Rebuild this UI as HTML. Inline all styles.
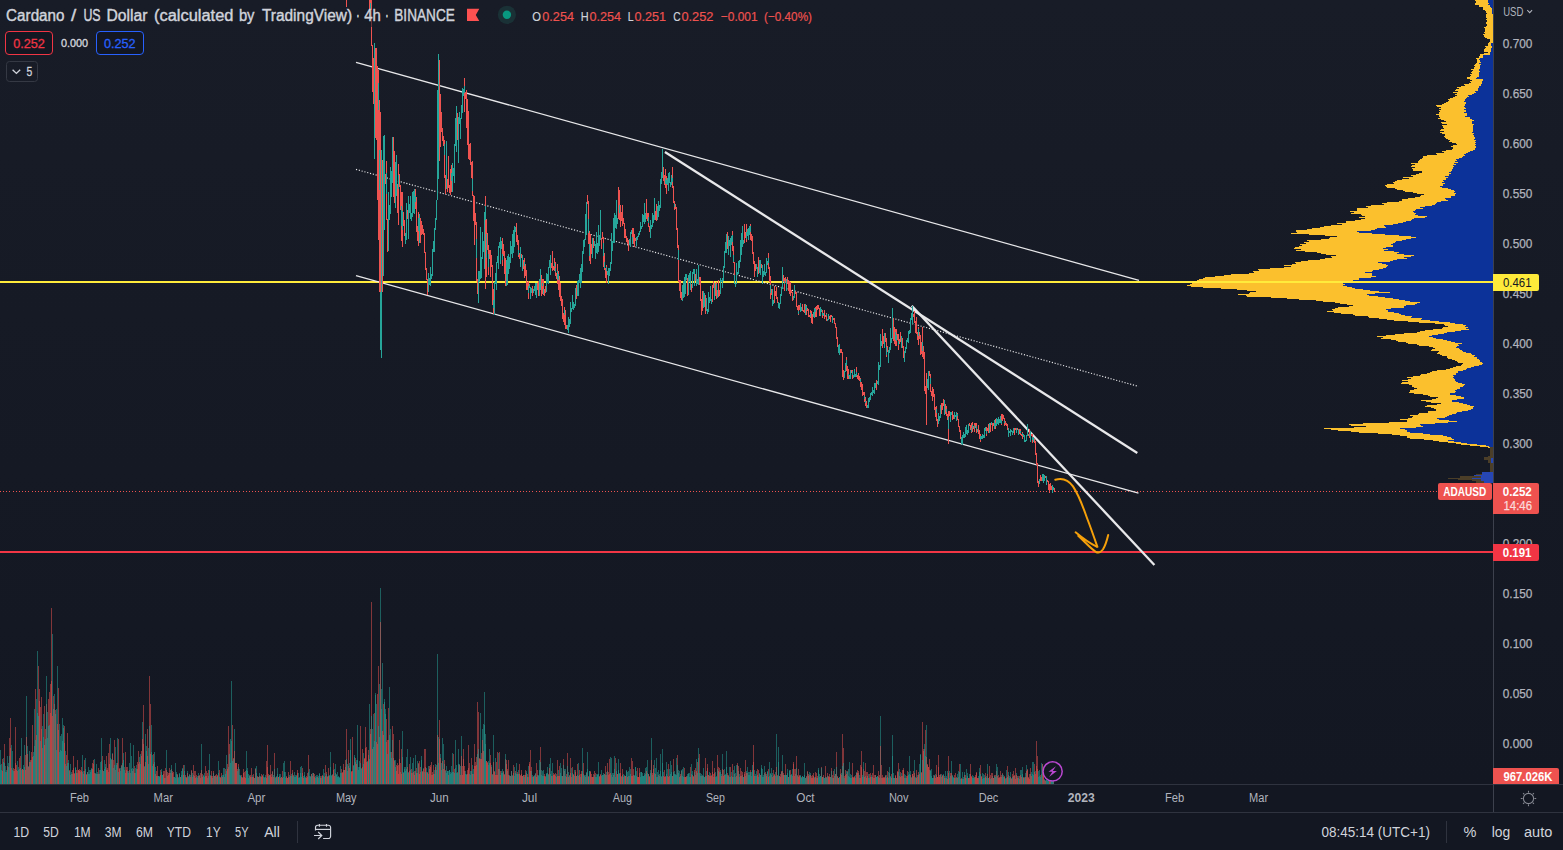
<!DOCTYPE html>
<html><head><meta charset="utf-8"><title>ADAUSD</title>
<style>
html,body{margin:0;padding:0;background:#131722;}
body{width:1563px;height:850px;overflow:hidden;position:relative;}
svg{position:absolute;left:0;top:0;display:block;font-family:"Liberation Sans",sans-serif;}
text{white-space:pre;}
</style></head><body>
<svg width="1563" height="850" viewBox="0 0 1563 850">
<defs><linearGradient id="bgg" x1="0" y1="0" x2="0" y2="1"><stop offset="0" stop-color="#181c27"/><stop offset="1" stop-color="#131722"/></linearGradient></defs>
<rect width="1563" height="850" fill="#131722"/>
<rect width="1563" height="784" fill="url(#bgg)"/>
<g shape-rendering="crispEdges">
<path d="M0.5 784V764.9M1.5 784V764.4M3.5 784V757.8M5.5 784V771.8M6.5 784V769.5M7.5 784V756.2M8.5 784V762.7M12.5 784V769.9M17.5 784V760.7M18.5 784V767.3M20.5 784V767.6M21.5 784V737.6M23.5 784V764.5M24.5 784V766.8M26.5 784V696.0M27.5 784V746.4M28.5 784V766.1M29.5 784V750.8M31.5 784V759.9M33.5 784V756.1M34.5 784V709.0M36.5 784V699.0M37.5 784V651.0M43.5 784V714.0M47.5 784V711.9M52.5 784V634.0M53.5 784V709.0M55.5 784V714.0M56.5 784V750.1M57.5 784V666.0M59.5 784V724.0M60.5 784V750.0M61.5 784V734.0M62.5 784V718.4M63.5 784V725.0M68.5 784V759.6M69.5 784V771.2M70.5 784V774.7M72.5 784V773.9M75.5 784V766.6M83.5 784V770.8M85.5 784V768.8M88.5 784V766.6M89.5 784V773.5M90.5 784V771.5M91.5 784V768.6M94.5 784V758.6M96.5 784V774.3M98.5 784V773.5M100.5 784V762.1M101.5 784V738.0M102.5 784V770.0M104.5 784V759.6M105.5 784V767.1M108.5 784V771.8M110.5 784V737.6M112.5 784V752.6M116.5 784V762.7M117.5 784V737.6M120.5 784V767.9M123.5 784V753.0M124.5 784V766.5M128.5 784V773.3M129.5 784V763.0M131.5 784V755.9M135.5 784V773.0M136.5 784V765.2M139.5 784V756.8M140.5 784V763.7M142.5 784V721.9M145.5 784V734.0M146.5 784V751.4M148.5 784V763.9M151.5 784V725.0M152.5 784V754.7M154.5 784V752.3M157.5 784V775.8M158.5 784V776.0M159.5 784V775.9M161.5 784V771.9M162.5 784V774.9M166.5 784V750.0M173.5 784V777.3M174.5 784V777.2M175.5 784V763.1M176.5 784V773.5M177.5 784V775.3M178.5 784V777.5M179.5 784V772.6M180.5 784V776.5M181.5 784V774.6M182.5 784V768.7M184.5 784V765.4M187.5 784V771.2M188.5 784V777.2M190.5 784V774.7M191.5 784V770.6M192.5 784V776.6M193.5 784V775.3M197.5 784V776.4M198.5 784V772.6M199.5 784V775.8M201.5 784V744.0M203.5 784V774.7M204.5 784V773.3M207.5 784V777.5M208.5 784V775.8M209.5 784V754.0M212.5 784V777.9M214.5 784V776.2M215.5 784V775.9M218.5 784V772.6M222.5 784V775.3M223.5 784V768.0M226.5 784V755.2M228.5 784V766.8M230.5 784V739.0M231.5 784V681.0M234.5 784V729.0M239.5 784V769.2M240.5 784V775.0M242.5 784V776.8M246.5 784V751.0M247.5 784V768.4M248.5 784V774.2M252.5 784V775.2M255.5 784V768.2M256.5 784V772.9M257.5 784V776.9M258.5 784V777.1M263.5 784V774.1M265.5 784V776.6M272.5 784V771.7M273.5 784V775.1M275.5 784V777.3M276.5 784V775.5M277.5 784V767.9M279.5 784V776.3M280.5 784V774.2M281.5 784V776.7M283.5 784V776.9M284.5 784V771.9M285.5 784V772.2M287.5 784V777.6M290.5 784V776.2M291.5 784V775.8M292.5 784V772.9M294.5 784V771.5M295.5 784V774.6M296.5 784V775.3M298.5 784V777.6M299.5 784V777.9M300.5 784V767.0M301.5 784V777.2M303.5 784V775.9M304.5 784V771.7M305.5 784V776.8M309.5 784V775.9M310.5 784V776.2M311.5 784V773.7M313.5 784V773.0M315.5 784V775.8M316.5 784V775.0M317.5 784V775.2M318.5 784V777.5M319.5 784V774.2M321.5 784V775.8M323.5 784V776.1M324.5 784V773.3M327.5 784V775.7M329.5 784V774.9M330.5 784V752.0M331.5 784V774.6M332.5 784V773.5M334.5 784V768.7M336.5 784V773.8M337.5 784V776.5M338.5 784V776.7M339.5 784V777.4M340.5 784V765.8M347.5 784V764.0M348.5 784V765.5M349.5 784V762.8M350.5 784V749.6M353.5 784V764.7M354.5 784V757.0M355.5 784V762.4M356.5 784V760.0M357.5 784V725.0M358.5 784V766.8M359.5 784V760.9M361.5 784V769.1M363.5 784V752.7M367.5 784V760.8M369.5 784V704.4M372.5 784V729.4M373.5 784V714.0M375.5 784V695.0M376.5 784V704.0M379.5 784V684.0M380.5 784V588.0M381.5 784V689.0M382.5 784V663.0M384.5 784V699.0M385.5 784V714.0M389.5 784V686.9M390.5 784V729.0M395.5 784V766.8M400.5 784V771.8M402.5 784V731.0M403.5 784V772.3M404.5 784V769.0M405.5 784V767.4M406.5 784V756.9M407.5 784V749.2M408.5 784V772.6M410.5 784V770.4M413.5 784V757.7M415.5 784V771.2M417.5 784V760.6M418.5 784V764.0M420.5 784V771.9M421.5 784V760.4M423.5 784V767.8M426.5 784V771.7M428.5 784V766.3M431.5 784V774.8M434.5 784V774.1M435.5 784V763.5M436.5 784V765.3M437.5 784V654.0M438.5 784V736.8M440.5 784V754.1M441.5 784V763.2M442.5 784V738.0M443.5 784V744.0M444.5 784V764.0M446.5 784V772.7M447.5 784V771.4M448.5 784V771.1M449.5 784V770.1M450.5 784V774.3M451.5 784V773.3M452.5 784V771.6M454.5 784V772.6M455.5 784V740.0M456.5 784V772.9M458.5 784V749.2M459.5 784V764.0M460.5 784V765.7M461.5 784V736.0M465.5 784V771.3M470.5 784V774.7M472.5 784V765.3M473.5 784V769.3M480.5 784V713.0M482.5 784V729.0M483.5 784V724.0M484.5 784V692.0M485.5 784V734.0M488.5 784V760.7M489.5 784V762.7M493.5 784V735.0M495.5 784V758.2M498.5 784V753.0M501.5 784V771.3M502.5 784V768.6M503.5 784V771.8M507.5 784V770.5M514.5 784V775.6M516.5 784V774.1M517.5 784V774.0M518.5 784V774.1M520.5 784V775.5M526.5 784V772.9M528.5 784V765.5M532.5 784V775.0M534.5 784V775.4M537.5 784V775.4M538.5 784V776.4M539.5 784V769.7M541.5 784V770.3M542.5 784V776.3M543.5 784V776.0M545.5 784V777.0M546.5 784V774.1M547.5 784V766.9M549.5 784V764.1M550.5 784V773.8M551.5 784V771.1M552.5 784V763.1M555.5 784V775.7M556.5 784V776.7M558.5 784V769.5M560.5 784V773.3M561.5 784V775.6M562.5 784V776.1M565.5 784V769.1M568.5 784V771.9M574.5 784V776.4M576.5 784V775.7M582.5 784V748.0M583.5 784V773.6M584.5 784V774.7M587.5 784V752.0M589.5 784V771.1M591.5 784V776.7M596.5 784V776.9M597.5 784V774.8M598.5 784V762.0M602.5 784V775.0M603.5 784V772.5M605.5 784V774.9M607.5 784V771.0M610.5 784V757.0M611.5 784V774.8M614.5 784V756.0M616.5 784V771.0M618.5 784V759.0M619.5 784V772.7M623.5 784V773.5M626.5 784V769.6M627.5 784V771.5M629.5 784V767.1M630.5 784V774.4M633.5 784V774.5M635.5 784V767.0M636.5 784V776.0M640.5 784V777.1M641.5 784V771.9M642.5 784V775.6M643.5 784V775.8M644.5 784V775.4M645.5 784V768.3M646.5 784V766.8M647.5 784V760.0M648.5 784V773.6M650.5 784V769.6M651.5 784V738.0M652.5 784V774.8M654.5 784V760.3M655.5 784V767.7M656.5 784V757.9M657.5 784V772.3M660.5 784V754.0M662.5 784V749.0M663.5 784V772.4M666.5 784V774.1M667.5 784V768.8M669.5 784V768.9M670.5 784V773.9M671.5 784V765.3M672.5 784V775.9M674.5 784V771.2M675.5 784V774.9M676.5 784V757.9M678.5 784V770.3M679.5 784V771.0M680.5 784V776.2M682.5 784V768.9M683.5 784V777.1M684.5 784V777.0M686.5 784V776.6M687.5 784V776.3M688.5 784V773.2M689.5 784V777.0M690.5 784V777.1M691.5 784V773.5M692.5 784V771.3M695.5 784V774.8M696.5 784V758.6M697.5 784V772.8M698.5 784V748.0M700.5 784V772.5M703.5 784V768.2M704.5 784V777.2M705.5 784V775.7M706.5 784V771.2M708.5 784V774.8M709.5 784V771.7M711.5 784V774.6M713.5 784V777.0M715.5 784V772.3M716.5 784V776.4M720.5 784V770.1M721.5 784V774.1M722.5 784V754.0M724.5 784V769.4M725.5 784V774.8M726.5 784V751.0M727.5 784V774.6M728.5 784V775.5M729.5 784V777.1M730.5 784V776.5M731.5 784V771.8M733.5 784V770.0M735.5 784V777.0M736.5 784V765.3M737.5 784V764.9M738.5 784V771.0M739.5 784V773.8M741.5 784V776.3M742.5 784V774.6M743.5 784V776.6M745.5 784V776.3M746.5 784V771.4M748.5 784V772.2M749.5 784V772.2M751.5 784V772.3M752.5 784V769.5M754.5 784V770.4M755.5 784V774.1M756.5 784V775.6M758.5 784V776.8M759.5 784V774.3M760.5 784V774.6M761.5 784V765.0M762.5 784V769.3M763.5 784V776.7M767.5 784V771.2M769.5 784V776.4M770.5 784V774.2M772.5 784V773.4M773.5 784V775.7M775.5 784V775.8M776.5 784V734.0M778.5 784V747.0M779.5 784V776.3M781.5 784V772.2M782.5 784V755.0M784.5 784V774.9M785.5 784V774.5M786.5 784V775.4M787.5 784V772.9M788.5 784V776.7M789.5 784V771.0M790.5 784V775.4M791.5 784V774.3M795.5 784V774.4M797.5 784V775.5M800.5 784V776.2M802.5 784V775.6M803.5 784V776.9M804.5 784V763.0M807.5 784V772.1M810.5 784V772.8M818.5 784V769.7M819.5 784V777.1M820.5 784V776.2M824.5 784V778.2M835.5 784V773.8M837.5 784V777.4M839.5 784V777.3M846.5 784V771.3M848.5 784V769.3M849.5 784V776.6M850.5 784V773.7M851.5 784V777.8M855.5 784V775.3M856.5 784V771.6M858.5 784V772.8M862.5 784V776.9M868.5 784V773.5M871.5 784V775.4M873.5 784V778.3M875.5 784V774.6M876.5 784V777.3M877.5 784V775.6M879.5 784V778.2M880.5 784V716.0M881.5 784V777.7M885.5 784V776.1M886.5 784V775.3M888.5 784V772.1M890.5 784V777.4M892.5 784V735.0M894.5 784V778.3M901.5 784V772.6M902.5 784V776.1M905.5 784V777.7M906.5 784V778.0M908.5 784V772.1M909.5 784V756.0M910.5 784V771.3M913.5 784V776.1M914.5 784V760.0M915.5 784V777.4M920.5 784V754.0M924.5 784V744.0M926.5 784V725.0M929.5 784V770.2M930.5 784V770.3M931.5 784V768.7M932.5 784V777.9M935.5 784V774.4M940.5 784V775.4M943.5 784V774.5M945.5 784V778.0M947.5 784V771.4M949.5 784V771.1M950.5 784V775.7M951.5 784V761.0M952.5 784V774.8M953.5 784V777.7M957.5 784V774.4M958.5 784V771.1M960.5 784V763.7M962.5 784V771.8M963.5 784V778.5M966.5 784V778.3M967.5 784V776.2M969.5 784V774.4M972.5 784V774.9M973.5 784V775.8M978.5 784V775.6M979.5 784V772.4M982.5 784V773.2M983.5 784V778.1M984.5 784V777.6M986.5 784V776.2M987.5 784V764.0M988.5 784V777.8M991.5 784V777.7M992.5 784V776.1M997.5 784V767.0M1001.5 784V776.6M1003.5 784V776.5M1005.5 784V778.7M1009.5 784V776.1M1010.5 784V772.4M1011.5 784V777.6M1014.5 784V775.7M1016.5 784V773.4M1018.5 784V775.5M1019.5 784V778.6M1020.5 784V770.1M1021.5 784V770.2M1022.5 784V767.4M1024.5 784V777.0M1025.5 784V772.8M1026.5 784V765.1M1030.5 784V774.0M1031.5 784V772.0M1032.5 784V762.3M1033.5 784V762.1M1035.5 784V771.1M1038.5 784V771.0M1039.5 784V775.5M1041.5 784V763.0M1042.5 784V764.1M1044.5 784V778.8M1045.5 784V780.3M1046.5 784V780.4M1047.5 784V780.2M1048.5 784V775.0M1050.5 784V779.7M1051.5 784V779.6M1052.5 784V780.3" stroke="#26a69a" stroke-width="1" stroke-opacity="0.5" fill="none"/>
<path d="M2.5 784V758.5M4.5 784V743.5M9.5 784V737.6M10.5 784V718.0M11.5 784V767.8M13.5 784V767.6M14.5 784V769.2M15.5 784V727.0M16.5 784V770.2M19.5 784V758.1M22.5 784V768.5M25.5 784V754.8M30.5 784V760.2M32.5 784V757.4M35.5 784V688.8M38.5 784V666.0M39.5 784V689.0M40.5 784V707.3M41.5 784V697.0M42.5 784V748.0M44.5 784V706.0M45.5 784V729.0M46.5 784V704.0M48.5 784V699.0M49.5 784V692.0M50.5 784V684.0M51.5 784V608.0M54.5 784V704.0M58.5 784V687.9M64.5 784V743.4M65.5 784V763.8M66.5 784V754.5M67.5 784V733.3M71.5 784V773.7M73.5 784V767.5M74.5 784V774.4M76.5 784V769.7M77.5 784V760.2M78.5 784V770.2M79.5 784V770.5M80.5 784V770.3M81.5 784V770.6M82.5 784V771.5M84.5 784V760.2M86.5 784V774.8M87.5 784V772.4M92.5 784V768.9M93.5 784V764.3M95.5 784V774.0M97.5 784V774.1M99.5 784V774.1M103.5 784V771.0M106.5 784V756.1M107.5 784V767.5M109.5 784V744.0M111.5 784V760.3M113.5 784V759.6M114.5 784V740.0M115.5 784V769.7M118.5 784V738.7M119.5 784V769.4M121.5 784V765.1M122.5 784V737.6M125.5 784V773.0M126.5 784V766.6M127.5 784V767.3M130.5 784V773.0M132.5 784V771.3M133.5 784V768.7M134.5 784V772.5M137.5 784V769.4M138.5 784V750.8M141.5 784V755.7M143.5 784V705.0M144.5 784V766.5M147.5 784V729.0M149.5 784V676.0M150.5 784V704.0M153.5 784V753.5M155.5 784V774.4M156.5 784V775.5M160.5 784V774.6M163.5 784V773.5M164.5 784V771.4M165.5 784V768.2M167.5 784V771.8M168.5 784V773.2M169.5 784V772.7M170.5 784V773.3M171.5 784V768.6M172.5 784V772.7M183.5 784V764.6M185.5 784V774.9M186.5 784V776.8M189.5 784V774.9M194.5 784V776.4M195.5 784V777.5M196.5 784V774.8M200.5 784V773.4M202.5 784V777.0M205.5 784V776.3M206.5 784V776.2M210.5 784V775.6M211.5 784V770.6M213.5 784V771.3M216.5 784V773.9M217.5 784V774.6M219.5 784V770.3M220.5 784V777.0M221.5 784V772.9M224.5 784V776.6M225.5 784V769.1M227.5 784V769.0M229.5 784V744.0M232.5 784V725.0M233.5 784V757.8M235.5 784V763.3M236.5 784V763.3M237.5 784V768.6M238.5 784V763.6M241.5 784V774.8M243.5 784V773.3M244.5 784V776.9M245.5 784V777.5M249.5 784V776.4M250.5 784V775.2M251.5 784V768.3M253.5 784V777.0M254.5 784V777.7M259.5 784V776.0M260.5 784V776.8M261.5 784V776.6M262.5 784V775.5M264.5 784V777.6M266.5 784V760.8M267.5 784V745.0M268.5 784V773.6M269.5 784V774.9M270.5 784V774.8M271.5 784V777.2M274.5 784V753.0M278.5 784V776.8M282.5 784V771.4M286.5 784V777.3M288.5 784V772.3M289.5 784V776.8M293.5 784V775.3M297.5 784V773.1M302.5 784V772.5M306.5 784V777.8M307.5 784V777.3M308.5 784V755.0M312.5 784V776.4M314.5 784V776.8M320.5 784V777.8M322.5 784V775.3M325.5 784V764.8M326.5 784V771.7M328.5 784V775.9M333.5 784V770.4M335.5 784V773.0M341.5 784V769.4M342.5 784V773.4M343.5 784V769.9M344.5 784V770.4M345.5 784V759.7M346.5 784V729.0M351.5 784V770.9M352.5 784V736.9M360.5 784V726.0M362.5 784V767.4M364.5 784V758.2M365.5 784V748.1M366.5 784V746.5M368.5 784V755.1M370.5 784V729.0M371.5 784V602.0M374.5 784V713.3M377.5 784V694.0M378.5 784V666.0M383.5 784V704.0M386.5 784V719.0M387.5 784V740.1M388.5 784V708.0M391.5 784V752.2M392.5 784V726.1M393.5 784V734.0M394.5 784V761.4M396.5 784V765.1M397.5 784V762.6M398.5 784V764.8M399.5 784V740.0M401.5 784V774.4M409.5 784V771.4M411.5 784V773.2M412.5 784V772.8M414.5 784V771.1M416.5 784V767.8M419.5 784V774.3M422.5 784V770.9M424.5 784V749.2M425.5 784V767.2M427.5 784V773.4M429.5 784V768.7M430.5 784V766.6M432.5 784V774.8M433.5 784V774.2M439.5 784V720.0M445.5 784V769.6M453.5 784V754.3M457.5 784V771.6M462.5 784V774.9M463.5 784V749.2M464.5 784V771.2M466.5 784V774.5M467.5 784V769.9M468.5 784V745.0M469.5 784V763.3M471.5 784V758.2M474.5 784V744.0M475.5 784V766.1M476.5 784V765.3M477.5 784V702.0M478.5 784V712.0M479.5 784V758.8M481.5 784V753.3M486.5 784V760.6M487.5 784V762.8M490.5 784V754.6M491.5 784V767.4M492.5 784V773.9M494.5 784V771.6M496.5 784V775.2M497.5 784V774.9M499.5 784V752.1M500.5 784V771.4M504.5 784V774.8M505.5 784V759.4M506.5 784V764.3M508.5 784V759.9M509.5 784V775.5M510.5 784V775.5M511.5 784V771.4M512.5 784V775.7M513.5 784V765.2M515.5 784V771.3M519.5 784V774.0M521.5 784V769.7M522.5 784V775.9M523.5 784V775.0M524.5 784V774.9M525.5 784V775.2M527.5 784V777.1M529.5 784V761.8M530.5 784V750.0M531.5 784V767.0M533.5 784V776.8M535.5 784V773.5M536.5 784V763.2M540.5 784V747.0M544.5 784V774.2M548.5 784V774.2M553.5 784V775.2M554.5 784V773.7M557.5 784V760.4M559.5 784V775.8M563.5 784V758.8M564.5 784V771.3M566.5 784V777.1M567.5 784V753.0M569.5 784V775.4M570.5 784V757.9M571.5 784V776.9M572.5 784V767.3M573.5 784V774.0M575.5 784V770.1M577.5 784V763.6M578.5 784V775.6M579.5 784V770.1M580.5 784V774.0M581.5 784V774.1M585.5 784V776.6M586.5 784V773.3M588.5 784V776.9M590.5 784V772.2M592.5 784V776.9M593.5 784V774.4M594.5 784V770.7M595.5 784V772.6M599.5 784V776.6M600.5 784V773.8M601.5 784V775.8M604.5 784V774.3M606.5 784V774.7M608.5 784V774.5M609.5 784V773.5M612.5 784V776.9M613.5 784V774.8M615.5 784V757.9M617.5 784V773.6M620.5 784V773.2M621.5 784V776.8M622.5 784V768.8M624.5 784V776.4M625.5 784V775.8M628.5 784V776.1M631.5 784V757.9M632.5 784V776.4M634.5 784V776.3M637.5 784V776.9M638.5 784V776.7M639.5 784V772.8M649.5 784V776.0M653.5 784V765.3M658.5 784V774.5M659.5 784V776.3M661.5 784V777.1M664.5 784V770.4M665.5 784V776.5M668.5 784V764.1M673.5 784V758.6M677.5 784V755.0M681.5 784V770.7M685.5 784V777.0M693.5 784V777.0M694.5 784V769.9M699.5 784V754.0M701.5 784V776.2M702.5 784V775.7M707.5 784V767.9M710.5 784V776.1M712.5 784V771.8M714.5 784V773.4M717.5 784V755.0M718.5 784V771.0M719.5 784V767.7M723.5 784V769.7M732.5 784V776.9M734.5 784V774.2M740.5 784V767.6M744.5 784V773.9M747.5 784V772.7M750.5 784V769.5M753.5 784V745.0M757.5 784V769.4M764.5 784V773.1M765.5 784V772.2M766.5 784V776.4M768.5 784V768.9M771.5 784V775.3M774.5 784V774.6M777.5 784V774.9M780.5 784V774.1M783.5 784V775.3M792.5 784V775.7M793.5 784V761.9M794.5 784V776.1M796.5 784V756.0M798.5 784V769.0M799.5 784V775.2M801.5 784V777.0M805.5 784V778.2M806.5 784V775.6M808.5 784V773.9M809.5 784V775.4M811.5 784V778.1M812.5 784V777.6M813.5 784V775.7M814.5 784V778.3M815.5 784V772.4M816.5 784V773.1M817.5 784V778.2M821.5 784V767.1M822.5 784V777.3M823.5 784V774.6M825.5 784V766.0M826.5 784V777.1M827.5 784V773.3M828.5 784V775.5M829.5 784V776.8M830.5 784V777.4M831.5 784V768.0M832.5 784V775.0M833.5 784V771.1M834.5 784V775.7M836.5 784V752.0M838.5 784V777.9M840.5 784V768.6M841.5 784V774.6M842.5 784V734.0M843.5 784V748.0M844.5 784V775.9M845.5 784V770.4M847.5 784V770.7M852.5 784V776.7M853.5 784V777.3M854.5 784V777.0M857.5 784V770.3M859.5 784V777.6M860.5 784V777.8M861.5 784V751.0M863.5 784V768.9M864.5 784V777.2M865.5 784V763.0M866.5 784V778.3M867.5 784V771.5M869.5 784V773.8M870.5 784V776.7M872.5 784V776.6M874.5 784V774.8M878.5 784V776.8M882.5 784V775.2M883.5 784V778.1M884.5 784V776.6M887.5 784V777.1M889.5 784V773.3M891.5 784V778.0M893.5 784V777.6M895.5 784V774.6M896.5 784V777.7M897.5 784V771.9M898.5 784V763.0M899.5 784V775.7M900.5 784V771.8M903.5 784V769.8M904.5 784V778.1M907.5 784V770.7M911.5 784V777.6M912.5 784V774.2M916.5 784V770.2M917.5 784V777.2M918.5 784V774.7M919.5 784V773.9M921.5 784V771.6M922.5 784V722.0M923.5 784V749.0M925.5 784V730.0M927.5 784V765.3M928.5 784V766.6M933.5 784V778.0M934.5 784V776.3M936.5 784V765.1M937.5 784V777.4M938.5 784V755.0M939.5 784V775.1M941.5 784V776.6M942.5 784V775.8M944.5 784V776.3M946.5 784V778.0M948.5 784V756.0M954.5 784V777.5M955.5 784V772.6M956.5 784V777.2M959.5 784V764.0M961.5 784V777.5M964.5 784V774.8M965.5 784V774.6M968.5 784V778.3M970.5 784V773.5M971.5 784V776.5M974.5 784V776.5M975.5 784V775.1M976.5 784V771.9M977.5 784V778.3M980.5 784V765.0M981.5 784V777.3M985.5 784V776.6M989.5 784V766.3M990.5 784V774.7M993.5 784V777.9M994.5 784V775.3M995.5 784V774.9M996.5 784V770.8M998.5 784V777.6M999.5 784V776.6M1000.5 784V770.7M1002.5 784V772.6M1004.5 784V776.7M1006.5 784V778.2M1007.5 784V766.0M1008.5 784V774.5M1012.5 784V774.1M1013.5 784V775.6M1015.5 784V778.5M1017.5 784V777.6M1023.5 784V778.1M1027.5 784V769.6M1028.5 784V778.4M1029.5 784V778.7M1034.5 784V771.9M1036.5 784V741.0M1037.5 784V756.0M1040.5 784V775.0M1043.5 784V770.9M1049.5 784V779.9M1053.5 784V781.4" stroke="#ef5350" stroke-width="1" stroke-opacity="0.5" fill="none"/>
<path d="M0.5 784V750.0M1.5 784V770.2M3.5 784V761.9M4.5 784V762.9M5.5 784V765.5M6.5 784V771.6M8.5 784V766.7M9.5 784V756.3M11.5 784V745.0M12.5 784V751.4M13.5 784V771.3M18.5 784V769.9M19.5 784V768.8M21.5 784V769.9M24.5 784V744.8M30.5 784V762.3M33.5 784V751.7M34.5 784V745.6M35.5 784V739.7M37.5 784V713.2M38.5 784V716.1M40.5 784V740.6M42.5 784V725.7M43.5 784V736.7M45.5 784V739.4M46.5 784V676.0M47.5 784V737.5M48.5 784V725.7M49.5 784V724.5M54.5 784V694.0M56.5 784V709.4M59.5 784V752.3M60.5 784V735.8M61.5 784V751.0M62.5 784V740.9M63.5 784V727.7M65.5 784V751.0M66.5 784V765.7M67.5 784V762.6M68.5 784V762.6M70.5 784V764.4M71.5 784V772.3M75.5 784V768.4M77.5 784V773.4M80.5 784V771.7M82.5 784V754.9M83.5 784V774.1M85.5 784V758.4M87.5 784V772.1M88.5 784V774.1M89.5 784V770.1M90.5 784V770.1M91.5 784V768.4M95.5 784V773.2M96.5 784V763.6M97.5 784V771.6M99.5 784V770.4M100.5 784V770.1M101.5 784V761.4M103.5 784V771.4M104.5 784V768.5M105.5 784V764.1M110.5 784V758.0M111.5 784V759.1M113.5 784V767.5M114.5 784V764.7M115.5 784V747.3M116.5 784V764.7M118.5 784V771.7M120.5 784V771.0M121.5 784V765.9M122.5 784V763.3M123.5 784V759.8M124.5 784V770.3M127.5 784V770.9M128.5 784V771.3M130.5 784V743.4M131.5 784V769.2M132.5 784V767.9M133.5 784V744.8M135.5 784V767.8M136.5 784V768.9M140.5 784V753.9M144.5 784V766.3M146.5 784V746.1M148.5 784V748.0M149.5 784V726.1M151.5 784V751.9M152.5 784V766.4M154.5 784V762.0M155.5 784V767.3M158.5 784V776.0M159.5 784V777.0M161.5 784V768.9M162.5 784V774.6M165.5 784V777.6M170.5 784V769.8M171.5 784V764.5M174.5 784V777.0M175.5 784V777.7M176.5 784V771.6M178.5 784V777.1M179.5 784V774.1M181.5 784V770.7M182.5 784V767.5M184.5 784V771.1M185.5 784V776.6M188.5 784V776.3M189.5 784V773.6M192.5 784V772.6M196.5 784V777.2M197.5 784V777.6M203.5 784V776.4M204.5 784V776.7M209.5 784V770.4M210.5 784V774.9M213.5 784V773.4M216.5 784V777.2M218.5 784V760.8M219.5 784V777.0M221.5 784V776.3M223.5 784V774.6M224.5 784V767.8M225.5 784V774.1M226.5 784V770.8M229.5 784V753.5M230.5 784V763.0M231.5 784V741.2M232.5 784V761.2M233.5 784V759.1M237.5 784V771.4M238.5 784V766.7M239.5 784V774.5M240.5 784V775.8M246.5 784V770.0M247.5 784V770.8M248.5 784V777.7M249.5 784V775.0M251.5 784V777.0M254.5 784V777.5M256.5 784V766.2M259.5 784V773.3M260.5 784V776.4M263.5 784V776.5M264.5 784V776.5M265.5 784V774.6M268.5 784V776.1M269.5 784V775.0M274.5 784V768.7M275.5 784V777.9M277.5 784V774.4M279.5 784V773.8M283.5 784V763.0M284.5 784V760.8M285.5 784V777.8M289.5 784V775.3M291.5 784V773.5M293.5 784V775.8M294.5 784V776.9M295.5 784V777.2M296.5 784V776.4M298.5 784V773.0M299.5 784V777.1M300.5 784V772.6M301.5 784V766.2M304.5 784V774.8M305.5 784V777.8M308.5 784V771.8M309.5 784V769.4M310.5 784V776.9M312.5 784V773.2M315.5 784V777.7M316.5 784V776.6M318.5 784V776.2M319.5 784V772.8M321.5 784V777.7M323.5 784V768.5M324.5 784V777.1M326.5 784V773.8M329.5 784V776.4M330.5 784V767.4M331.5 784V775.8M335.5 784V763.9M336.5 784V775.1M337.5 784V772.1M338.5 784V776.3M339.5 784V777.7M340.5 784V773.3M341.5 784V772.7M344.5 784V770.3M346.5 784V759.2M347.5 784V770.7M350.5 784V738.5M353.5 784V765.7M354.5 784V755.1M357.5 784V759.6M358.5 784V770.3M359.5 784V767.2M360.5 784V762.8M361.5 784V767.9M363.5 784V764.4M367.5 784V761.6M369.5 784V759.3M371.5 784V715.7M373.5 784V747.4M374.5 784V741.0M375.5 784V693.2M378.5 784V725.7M379.5 784V736.7M381.5 784V708.8M384.5 784V701.9M385.5 784V709.2M387.5 784V754.2M389.5 784V734.9M390.5 784V752.1M391.5 784V758.4M392.5 784V740.0M394.5 784V759.6M395.5 784V759.9M402.5 784V756.6M404.5 784V767.4M405.5 784V770.9M406.5 784V768.9M408.5 784V771.6M410.5 784V756.8M412.5 784V762.7M415.5 784V755.3M417.5 784V773.1M421.5 784V755.9M424.5 784V771.7M426.5 784V768.1M428.5 784V774.4M434.5 784V769.6M436.5 784V769.9M438.5 784V763.3M441.5 784V770.1M445.5 784V770.5M446.5 784V766.4M447.5 784V770.8M449.5 784V769.9M450.5 784V772.0M451.5 784V766.1M452.5 784V753.3M453.5 784V772.0M455.5 784V768.0M456.5 784V764.8M457.5 784V772.8M458.5 784V763.6M465.5 784V774.1M466.5 784V774.1M469.5 784V774.1M470.5 784V771.3M471.5 784V770.6M473.5 784V773.5M477.5 784V754.0M478.5 784V748.7M484.5 784V724.8M485.5 784V744.3M488.5 784V764.6M489.5 784V749.2M491.5 784V765.1M492.5 784V775.4M499.5 784V768.9M501.5 784V773.1M502.5 784V772.5M505.5 784V753.9M509.5 784V775.0M510.5 784V775.5M511.5 784V770.6M512.5 784V775.3M514.5 784V767.1M515.5 784V773.3M516.5 784V763.2M518.5 784V769.5M523.5 784V775.1M524.5 784V776.5M526.5 784V770.7M528.5 784V776.5M531.5 784V771.0M532.5 784V776.6M534.5 784V776.2M535.5 784V773.2M538.5 784V775.3M539.5 784V760.0M540.5 784V762.3M541.5 784V774.7M542.5 784V770.8M543.5 784V769.5M546.5 784V772.5M547.5 784V773.0M548.5 784V775.3M550.5 784V757.9M552.5 784V775.6M556.5 784V773.9M560.5 784V763.3M561.5 784V768.4M563.5 784V765.3M564.5 784V769.3M565.5 784V775.5M567.5 784V765.6M569.5 784V776.2M571.5 784V767.5M572.5 784V773.2M574.5 784V769.6M577.5 784V775.3M578.5 784V762.7M580.5 784V777.0M582.5 784V770.8M584.5 784V775.9M585.5 784V774.5M586.5 784V772.3M587.5 784V768.6M589.5 784V771.0M594.5 784V774.7M595.5 784V777.0M596.5 784V774.1M597.5 784V774.2M598.5 784V774.0M601.5 784V769.7M602.5 784V774.5M603.5 784V774.7M604.5 784V774.1M606.5 784V771.9M611.5 784V757.9M612.5 784V773.0M613.5 784V772.9M614.5 784V769.3M615.5 784V776.5M616.5 784V762.9M618.5 784V770.2M619.5 784V774.2M621.5 784V775.5M623.5 784V777.1M624.5 784V775.4M626.5 784V770.8M628.5 784V771.4M629.5 784V776.0M630.5 784V769.2M634.5 784V775.1M635.5 784V767.4M636.5 784V771.1M640.5 784V771.5M641.5 784V771.5M642.5 784V773.3M643.5 784V775.5M644.5 784V772.9M645.5 784V774.2M647.5 784V773.3M650.5 784V772.6M654.5 784V773.4M656.5 784V777.1M657.5 784V776.6M658.5 784V770.3M659.5 784V774.2M660.5 784V771.0M661.5 784V776.0M662.5 784V763.4M666.5 784V762.1M670.5 784V760.7M671.5 784V771.8M673.5 784V771.9M674.5 784V773.9M675.5 784V773.6M676.5 784V775.0M677.5 784V765.4M678.5 784V773.2M681.5 784V770.4M682.5 784V776.4M683.5 784V767.2M687.5 784V773.5M688.5 784V773.8M689.5 784V772.6M691.5 784V763.8M694.5 784V771.5M698.5 784V757.9M699.5 784V772.5M700.5 784V775.6M701.5 784V774.4M702.5 784V775.0M703.5 784V776.1M704.5 784V777.2M706.5 784V775.9M715.5 784V777.1M716.5 784V776.9M717.5 784V768.9M719.5 784V771.8M720.5 784V772.4M725.5 784V774.1M726.5 784V766.9M729.5 784V766.8M731.5 784V776.0M733.5 784V776.6M734.5 784V766.2M735.5 784V772.8M739.5 784V776.5M743.5 784V776.7M747.5 784V767.2M748.5 784V775.0M749.5 784V775.1M750.5 784V771.8M751.5 784V775.8M752.5 784V765.1M755.5 784V776.1M756.5 784V771.0M759.5 784V772.8M761.5 784V767.5M762.5 784V776.7M763.5 784V774.7M764.5 784V766.3M765.5 784V774.1M767.5 784V771.6M769.5 784V761.9M770.5 784V773.2M771.5 784V768.3M775.5 784V771.8M777.5 784V776.4M778.5 784V762.4M784.5 784V775.1M786.5 784V775.0M787.5 784V768.5M789.5 784V769.7M791.5 784V775.1M792.5 784V769.3M796.5 784V767.6M800.5 784V775.2M801.5 784V778.3M802.5 784V776.4M803.5 784V776.9M804.5 784V774.8M805.5 784V777.9M806.5 784V776.7M809.5 784V771.5M814.5 784V777.3M816.5 784V778.1M818.5 784V767.5M819.5 784V773.9M820.5 784V775.8M821.5 784V767.7M823.5 784V776.6M824.5 784V777.9M825.5 784V776.6M826.5 784V777.9M827.5 784V775.8M830.5 784V777.3M831.5 784V771.0M832.5 784V778.0M834.5 784V769.4M836.5 784V767.0M839.5 784V777.3M841.5 784V773.1M842.5 784V765.8M843.5 784V762.8M844.5 784V778.3M847.5 784V772.4M848.5 784V776.3M849.5 784V762.2M850.5 784V777.9M851.5 784V774.7M855.5 784V778.1M859.5 784V775.0M862.5 784V774.6M863.5 784V762.2M865.5 784V776.0M868.5 784V778.2M869.5 784V777.8M871.5 784V777.0M876.5 784V777.3M877.5 784V776.2M886.5 784V778.1M888.5 784V778.3M889.5 784V766.6M890.5 784V775.7M892.5 784V756.1M893.5 784V773.2M894.5 784V777.8M896.5 784V777.8M898.5 784V772.1M899.5 784V768.7M904.5 784V773.8M905.5 784V775.0M908.5 784V775.0M909.5 784V773.6M911.5 784V777.0M915.5 784V778.3M917.5 784V774.5M919.5 784V763.8M920.5 784V755.3M922.5 784V760.1M924.5 784V748.7M925.5 784V756.4M930.5 784V771.0M931.5 784V776.2M932.5 784V777.9M933.5 784V774.9M941.5 784V773.7M943.5 784V774.2M945.5 784V770.6M946.5 784V776.0M949.5 784V778.3M952.5 784V776.2M953.5 784V776.6M955.5 784V777.7M956.5 784V777.6M958.5 784V776.6M959.5 784V772.3M960.5 784V778.6M962.5 784V778.6M963.5 784V777.3M964.5 784V771.5M966.5 784V769.1M967.5 784V772.6M972.5 784V778.3M973.5 784V777.9M974.5 784V778.1M979.5 784V767.9M980.5 784V774.2M982.5 784V778.7M983.5 784V773.8M984.5 784V775.3M986.5 784V777.6M988.5 784V778.2M990.5 784V778.5M994.5 784V776.4M995.5 784V776.7M996.5 784V763.7M1002.5 784V773.9M1003.5 784V774.8M1005.5 784V777.5M1006.5 784V770.0M1008.5 784V772.3M1009.5 784V778.3M1012.5 784V776.7M1018.5 784V778.1M1022.5 784V774.4M1024.5 784V778.1M1032.5 784V774.3M1033.5 784V775.1M1038.5 784V776.8M1039.5 784V769.9M1040.5 784V777.1M1041.5 784V773.8M1046.5 784V778.1M1047.5 784V781.2M1048.5 784V777.3M1051.5 784V781.1M1052.5 784V781.5M1053.5 784V780.6" stroke="#26a69a" stroke-width="1" stroke-opacity="0.5" fill="none"/>
<path d="M2.5 784V771.1M7.5 784V765.7M10.5 784V748.3M14.5 784V771.1M15.5 784V762.6M16.5 784V764.9M17.5 784V770.7M20.5 784V755.5M22.5 784V768.9M23.5 784V769.5M25.5 784V770.2M26.5 784V736.9M27.5 784V753.7M28.5 784V766.9M29.5 784V762.4M31.5 784V751.9M32.5 784V724.7M36.5 784V734.9M39.5 784V701.4M41.5 784V728.8M44.5 784V745.3M50.5 784V713.2M51.5 784V680.6M52.5 784V716.0M53.5 784V696.0M55.5 784V710.4M57.5 784V724.1M58.5 784V730.2M64.5 784V726.0M69.5 784V769.8M72.5 784V770.3M73.5 784V756.4M74.5 784V773.3M76.5 784V772.5M78.5 784V769.5M79.5 784V769.0M81.5 784V767.4M84.5 784V770.8M86.5 784V773.5M92.5 784V762.6M93.5 784V760.1M94.5 784V773.4M98.5 784V767.6M102.5 784V756.3M106.5 784V770.2M107.5 784V770.1M108.5 784V752.9M109.5 784V763.5M112.5 784V753.9M117.5 784V763.2M119.5 784V767.5M125.5 784V751.8M126.5 784V770.0M129.5 784V769.7M134.5 784V766.1M137.5 784V762.2M138.5 784V763.6M139.5 784V762.0M141.5 784V751.0M142.5 784V738.5M143.5 784V744.0M145.5 784V761.9M147.5 784V756.0M150.5 784V754.4M153.5 784V763.5M156.5 784V771.1M157.5 784V766.4M160.5 784V770.3M163.5 784V771.0M164.5 784V777.6M166.5 784V770.2M167.5 784V775.8M168.5 784V775.1M169.5 784V767.5M172.5 784V771.1M173.5 784V772.2M177.5 784V774.2M180.5 784V777.1M183.5 784V775.2M186.5 784V777.9M187.5 784V772.6M190.5 784V777.3M191.5 784V770.0M193.5 784V764.7M194.5 784V771.3M195.5 784V770.5M198.5 784V776.1M199.5 784V775.3M200.5 784V777.9M201.5 784V769.9M202.5 784V773.9M205.5 784V765.6M206.5 784V770.5M207.5 784V773.1M208.5 784V770.3M211.5 784V775.9M212.5 784V775.8M214.5 784V776.2M215.5 784V774.9M217.5 784V776.1M220.5 784V777.6M222.5 784V777.4M227.5 784V763.6M228.5 784V726.0M234.5 784V751.1M235.5 784V762.8M236.5 784V763.3M241.5 784V776.8M242.5 784V777.6M243.5 784V769.4M244.5 784V772.1M245.5 784V771.3M250.5 784V777.0M252.5 784V777.1M253.5 784V773.7M255.5 784V769.3M257.5 784V776.4M258.5 784V776.8M261.5 784V773.6M262.5 784V774.8M266.5 784V777.8M267.5 784V766.7M270.5 784V765.1M271.5 784V774.0M272.5 784V771.4M273.5 784V776.9M276.5 784V776.7M278.5 784V777.3M280.5 784V777.6M281.5 784V777.2M282.5 784V777.7M286.5 784V775.8M287.5 784V777.8M288.5 784V776.8M290.5 784V761.1M292.5 784V769.5M297.5 784V769.5M302.5 784V767.9M303.5 784V777.6M306.5 784V776.4M307.5 784V772.7M311.5 784V774.4M313.5 784V773.3M314.5 784V773.7M317.5 784V777.2M320.5 784V775.8M322.5 784V776.3M325.5 784V776.0M327.5 784V776.6M328.5 784V767.7M332.5 784V774.6M333.5 784V763.2M334.5 784V776.4M342.5 784V771.7M343.5 784V764.3M345.5 784V766.8M348.5 784V749.8M349.5 784V767.9M351.5 784V771.6M352.5 784V770.6M355.5 784V758.0M356.5 784V763.7M362.5 784V749.4M364.5 784V759.2M365.5 784V726.8M366.5 784V761.7M368.5 784V749.5M370.5 784V733.5M372.5 784V748.7M376.5 784V742.2M377.5 784V743.6M380.5 784V621.6M382.5 784V730.8M383.5 784V735.1M386.5 784V742.4M388.5 784V739.5M393.5 784V757.6M396.5 784V770.6M397.5 784V765.5M398.5 784V773.9M399.5 784V759.4M400.5 784V762.9M401.5 784V749.2M403.5 784V772.5M407.5 784V767.4M409.5 784V764.0M411.5 784V769.4M413.5 784V771.8M414.5 784V774.5M416.5 784V773.1M418.5 784V762.8M419.5 784V760.5M420.5 784V766.8M422.5 784V772.1M423.5 784V769.0M425.5 784V749.2M427.5 784V772.0M429.5 784V766.3M430.5 784V765.4M431.5 784V762.4M432.5 784V772.2M433.5 784V765.0M435.5 784V767.1M437.5 784V735.1M439.5 784V738.7M440.5 784V757.7M442.5 784V760.5M443.5 784V768.9M444.5 784V760.3M448.5 784V774.6M454.5 784V768.9M459.5 784V765.0M460.5 784V774.6M461.5 784V756.0M462.5 784V766.4M463.5 784V759.1M464.5 784V766.1M467.5 784V774.2M468.5 784V768.3M472.5 784V774.2M474.5 784V766.1M475.5 784V762.0M476.5 784V757.1M479.5 784V758.1M480.5 784V758.5M481.5 784V758.7M482.5 784V739.6M483.5 784V750.7M486.5 784V760.8M487.5 784V762.1M490.5 784V763.3M493.5 784V762.3M494.5 784V770.8M495.5 784V775.0M496.5 784V762.1M497.5 784V752.1M498.5 784V769.3M500.5 784V775.2M503.5 784V770.9M504.5 784V773.6M506.5 784V759.7M507.5 784V768.9M508.5 784V775.2M513.5 784V772.6M517.5 784V771.9M519.5 784V763.5M520.5 784V775.3M521.5 784V773.5M522.5 784V776.0M525.5 784V769.7M527.5 784V773.9M529.5 784V764.4M530.5 784V770.5M533.5 784V776.2M536.5 784V776.8M537.5 784V770.4M544.5 784V776.2M545.5 784V775.8M549.5 784V768.0M551.5 784V775.9M553.5 784V773.3M554.5 784V774.9M555.5 784V773.1M557.5 784V775.6M558.5 784V775.9M559.5 784V766.1M562.5 784V776.0M566.5 784V773.8M568.5 784V776.6M570.5 784V772.5M573.5 784V774.9M575.5 784V771.5M576.5 784V776.2M579.5 784V775.3M581.5 784V770.7M583.5 784V763.0M588.5 784V776.4M590.5 784V771.3M591.5 784V774.1M592.5 784V776.8M593.5 784V776.5M599.5 784V775.5M600.5 784V774.7M605.5 784V766.3M607.5 784V762.9M608.5 784V772.1M609.5 784V758.5M610.5 784V772.8M617.5 784V773.9M620.5 784V762.5M622.5 784V774.9M625.5 784V776.3M627.5 784V777.1M631.5 784V776.0M632.5 784V761.3M633.5 784V768.8M637.5 784V768.4M638.5 784V777.0M639.5 784V767.7M646.5 784V770.5M648.5 784V773.6M649.5 784V777.1M651.5 784V759.9M652.5 784V773.3M653.5 784V768.6M655.5 784V773.7M663.5 784V775.7M664.5 784V776.9M665.5 784V776.1M667.5 784V776.2M668.5 784V777.0M669.5 784V775.8M672.5 784V775.6M679.5 784V776.8M680.5 784V774.2M684.5 784V768.2M685.5 784V776.6M686.5 784V776.1M690.5 784V766.8M692.5 784V775.0M693.5 784V775.6M695.5 784V768.0M696.5 784V770.8M697.5 784V762.0M705.5 784V757.9M707.5 784V764.1M708.5 784V775.4M709.5 784V776.4M710.5 784V772.6M711.5 784V776.2M712.5 784V760.8M713.5 784V774.3M714.5 784V767.9M718.5 784V766.9M721.5 784V775.7M722.5 784V768.9M723.5 784V775.6M724.5 784V774.8M727.5 784V772.8M728.5 784V775.0M730.5 784V766.6M732.5 784V764.1M736.5 784V776.1M737.5 784V763.0M738.5 784V766.0M740.5 784V775.8M741.5 784V770.7M742.5 784V771.5M744.5 784V772.3M745.5 784V759.7M746.5 784V772.8M753.5 784V761.7M754.5 784V776.0M757.5 784V775.3M758.5 784V769.7M760.5 784V775.1M766.5 784V773.6M768.5 784V776.7M772.5 784V776.7M773.5 784V770.2M774.5 784V773.7M776.5 784V766.5M779.5 784V775.9M780.5 784V776.5M781.5 784V771.1M782.5 784V770.6M783.5 784V773.2M785.5 784V763.6M788.5 784V777.1M790.5 784V770.2M793.5 784V763.9M794.5 784V769.4M795.5 784V768.5M797.5 784V774.6M798.5 784V776.8M799.5 784V776.0M807.5 784V771.1M808.5 784V775.9M810.5 784V774.5M811.5 784V775.8M812.5 784V775.0M813.5 784V773.0M815.5 784V777.0M817.5 784V775.7M822.5 784V777.2M828.5 784V777.1M829.5 784V774.3M833.5 784V778.2M835.5 784V774.0M837.5 784V775.9M838.5 784V778.3M840.5 784V773.8M845.5 784V774.6M846.5 784V774.4M852.5 784V763.3M853.5 784V778.3M854.5 784V775.7M856.5 784V772.5M857.5 784V773.0M858.5 784V771.0M860.5 784V764.6M861.5 784V766.9M864.5 784V771.4M866.5 784V772.1M867.5 784V775.6M870.5 784V772.5M872.5 784V772.5M873.5 784V765.2M874.5 784V778.1M875.5 784V774.5M878.5 784V771.3M879.5 784V774.6M880.5 784V746.0M881.5 784V764.7M882.5 784V778.1M883.5 784V776.9M884.5 784V778.0M885.5 784V774.5M887.5 784V771.4M891.5 784V773.6M895.5 784V775.8M897.5 784V771.4M900.5 784V777.4M901.5 784V775.8M902.5 784V770.3M903.5 784V768.1M906.5 784V776.2M907.5 784V775.9M910.5 784V774.6M912.5 784V774.3M913.5 784V770.9M914.5 784V773.1M916.5 784V777.7M918.5 784V771.5M921.5 784V773.3M923.5 784V751.2M926.5 784V756.9M927.5 784V763.6M928.5 784V766.6M929.5 784V759.2M934.5 784V775.2M935.5 784V777.8M936.5 784V775.1M937.5 784V777.0M938.5 784V766.7M939.5 784V776.9M940.5 784V774.0M942.5 784V774.6M944.5 784V778.0M947.5 784V778.7M948.5 784V773.1M950.5 784V772.9M951.5 784V772.8M954.5 784V775.1M957.5 784V777.6M961.5 784V778.6M965.5 784V777.7M968.5 784V777.7M969.5 784V777.7M970.5 784V763.7M971.5 784V776.1M975.5 784V776.5M976.5 784V773.0M977.5 784V778.2M978.5 784V777.5M981.5 784V775.9M985.5 784V773.0M987.5 784V773.7M989.5 784V777.0M991.5 784V773.1M992.5 784V772.7M993.5 784V778.4M997.5 784V775.7M998.5 784V775.2M999.5 784V777.7M1000.5 784V777.3M1001.5 784V775.0M1004.5 784V775.7M1007.5 784V777.4M1010.5 784V777.4M1011.5 784V778.5M1013.5 784V771.0M1014.5 784V775.3M1015.5 784V768.0M1016.5 784V775.0M1017.5 784V776.3M1019.5 784V775.9M1020.5 784V775.2M1021.5 784V777.1M1023.5 784V776.9M1025.5 784V777.1M1026.5 784V770.8M1027.5 784V768.8M1028.5 784V777.0M1029.5 784V773.5M1030.5 784V768.4M1031.5 784V775.9M1034.5 784V763.7M1035.5 784V773.9M1036.5 784V765.7M1037.5 784V768.9M1042.5 784V763.9M1043.5 784V772.8M1044.5 784V779.7M1045.5 784V780.8M1049.5 784V779.2M1050.5 784V780.5" stroke="#ef5350" stroke-width="1" stroke-opacity="0.5" fill="none"/>
</g>
<g shape-rendering="crispEdges">
<path d="M1493 0H1475.3V1H1475.6V2H1476.3V3H1474.7V4H1475.4V5H1479.2V6H1478.8V7H1483.0V8H1483.0V9H1482.7V10H1484.6V11H1486.3V12H1485.6V13H1486.5V14H1486.3V15H1486.3V16H1485.7V17H1486.3V18H1487.0V19H1485.8V20H1487.2V21H1486.6V22H1486.4V23H1486.2V24H1486.5V25H1486.7V26H1485.9V27H1484.4V28H1484.8V29H1484.9V30H1484.5V31H1484.7V32H1483.7V33H1484.8V34H1483.3V35H1483.9V36H1483.7V37H1484.8V38H1487.0V39H1489.9V40H1490.1V41H1489.6V42H1489.3V43H1488.1V44H1487.5V45H1488.2V46H1485.1V47H1485.6V48H1484.8V49H1484.0V50H1484.4V51H1484.2V52H1487.7V53H1483.5V54H1480.2V55H1480.1V56H1479.1V57H1478.8V58H1475.6V59H1477.2V60H1477.2V61H1477.4V62H1477.4V63H1475.7V64H1475.3V65H1474.1V66H1475.1V67H1474.4V68H1474.4V69H1471.4V70H1472.6V71H1471.7V72H1470.6V73H1471.9V74H1469.6V75H1471.0V76H1469.5V77H1466.5V78H1466.5V79H1470.0V80H1471.8V81H1469.6V82H1470.6V83H1468.5V84H1464.3V85H1464.8V86H1461.3V87H1457.3V88H1459.2V89H1456.1V90H1455.3V91H1457.5V92H1452.9V93H1456.9V94H1454.6V95H1456.8V96H1455.2V97H1453.4V98H1450.1V99H1448.3V100H1448.8V101H1448.3V102H1446.4V103H1444.1V104H1441.6V105H1436.1V106H1437.3V107H1440.7V108H1439.3V109H1440.7V110H1438.7V111H1440.3V112H1438.7V113H1438.9V114H1435.5V115H1439.4V116H1439.4V117H1439.9V118H1438.1V119H1441.3V120H1443.5V121H1445.6V122H1441.4V123H1441.8V124H1446.8V125H1441.6V126H1442.7V127H1442.6V128H1443.7V129H1441.0V130H1440.3V131H1443.6V132H1439.5V133H1441.5V134H1444.7V135H1445.4V136H1443.9V137H1445.3V138H1446.3V139H1448.1V140H1450.0V141H1449.1V142H1452.4V143H1456.4V144H1456.9V145H1453.0V146H1451.4V147H1453.2V148H1453.0V149H1451.8V150H1445.9V151H1442.1V152H1443.5V153H1435.9V154H1436.9V155H1426.5V156H1422.7V157H1422.8V158H1421.7V159H1419.8V160H1419.1V161H1418.1V162H1417.9V163H1411.4V164H1415.2V165H1411.7V166H1411.1V167H1414.9V168H1411.6V169H1413.3V170H1412.9V171H1422.3V172H1421.8V173H1418.6V174H1415.7V175H1411.4V176H1413.0V177H1403.2V178H1408.9V179H1402.0V180H1397.2V181H1394.6V182H1392.9V183H1394.2V184H1386.8V185H1385.3V186H1386.0V187H1386.8V188H1394.8V189H1396.6V190H1402.5V191H1405.1V192H1412.6V193H1416.8V194H1424.0V195H1421.2V196H1420.1V197H1414.9V198H1408.1V199H1401.5V200H1401.8V201H1399.0V202H1386.8V203H1381.7V204H1383.8V205H1370.7V206H1365.6V207H1367.7V208H1357.2V209H1356.7V210H1357.3V211H1349.8V212H1354.3V213H1351.0V214H1360.7V215H1362.1V216H1365.1V217H1359.2V218H1364.9V219H1361.3V220H1355.4V221H1345.6V222H1345.9V223H1337.2V224H1341.5V225H1331.2V226H1324.1V227H1320.2V228H1312.2V229H1307.2V230H1295.8V231H1295.6V232H1296.6V233H1290.9V234H1309.4V235H1325.2V236H1336.5V237H1329.8V238H1329.4V239H1320.7V240H1306.5V241H1309.1V242H1303.9V243H1306.3V244H1300.2V245H1301.9V246H1298.8V247H1295.1V248H1294.1V249H1301.4V250H1295.8V251H1305.4V252H1317.0V253H1321.2V254H1326.3V255H1335.9V256H1331.3V257H1331.7V258H1325.4V259H1320.4V260H1308.1V261H1301.4V262H1295.2V263H1296.4V264H1292.4V265H1284.3V266H1291.4V267H1284.2V268H1270.2V269H1258.2V270H1258.7V271H1253.2V272H1253.7V273H1248.6V274H1230.7V275H1223.6V276H1215.4V277H1205.0V278H1203.4V279H1199.3V280H1196.5V281H1192.9V282H1192.7V283H1192.4V284H1190.2V285H1186.8V286H1191.3V287H1203.2V288H1221.3V289H1237.4V290H1247.2V291H1255.7V292H1249.7V293H1249.1V294H1237.8V295H1245.8V296H1247.2V297H1271.0V298H1287.0V299H1298.6V300H1315.5V301H1323.2V302H1334.5V303H1339.5V304H1347.3V305H1353.4V306H1348.5V307H1338.3V308H1335.0V309H1332.4V310H1332.5V311H1326.5V312H1333.7V313H1340.9V314H1353.3V315H1354.5V316H1367.7V317H1368.5V318H1379.0V319H1387.3V320H1393.6V321H1407.9V322H1418.5V323H1434.6V324H1444.3V325H1445.2V326H1447.9V327H1442.8V328H1442.2V329H1433.4V330H1425.3V331H1420.3V332H1416.7V333H1404.2V334H1394.6V335H1386.4V336H1376.7V337H1382.5V338H1381.2V339H1391.2V340H1395.8V341H1398.3V342H1405.5V343H1408.1V344H1416.5V345H1419.3V346H1429.0V347H1433.4V348H1434.8V349H1432.0V350H1431.4V351H1439.1V352H1438.4V353H1437.4V354H1440.4V355H1441.9V356H1446.5V357H1446.5V358H1448.4V359H1451.6V360H1454.9V361H1457.0V362H1457.9V363H1462.9V364H1461.7V365H1460.8V366H1456.2V367H1452.7V368H1450.2V369H1445.5V370H1437.3V371H1432.3V372H1430.1V373H1426.7V374H1421.3V375H1419.6V376H1413.0V377H1407.3V378H1411.3V379H1408.3V380H1401.9V381H1407.7V382H1402.4V383H1400.6V384H1409.4V385H1411.5V386H1411.8V387H1413.9V388H1417.4V389H1414.3V390H1409.5V391H1410.2V392H1408.9V393H1413.5V394H1423.4V395H1427.6V396H1430.0V397H1437.6V398H1436.3V399H1432.3V400H1420.5V401H1425.6V402H1430.6V403H1441.0V404H1437.3V405H1427.4V406H1425.0V407H1430.6V408H1433.5V409H1436.2V410H1436.4V411H1428.3V412H1428.2V413H1418.8V414H1418.1V415H1410.0V416H1413.0V417H1411.6V418H1408.3V419H1400.4V420H1406.5V421H1406.5V422H1388.5V423H1363.2V424H1348.7V425H1351.4V426H1365.7V427H1353.6V428H1324.3V429H1331.1V430H1338.0V431H1350.7V432H1359.3V433H1377.8V434H1391.9V435H1400.2V436H1407.3V437H1406.8V438H1410.0V439H1424.4V440H1433.1V441H1439.1V442H1448.4V443H1456.0V444H1461.2V445H1469.9V446H1479.7V447H1488.2V448H1493Z" fill="#fbc02d"/>
<path d="M1493 0H1488.3V1H1488.4V2H1487.8V3H1488.7V4H1488.0V5H1489.6V6H1489.6V7H1491.4V8H1492.0V9H1491.9V10H1491.7V11H1492.4V12H1492.0V13H1492.3V14H1492.6V15H1492.6V16H1492.5V17H1493.0V18H1493.0V19H1493.0V20H1493.0V21H1493.0V22H1493.0V23H1493.0V24H1493.0V25H1493.0V26H1493.0V27H1493.0V28H1493.0V29H1493.0V30H1493.0V31H1493.0V32H1493.0V33H1493.0V34H1493.0V35H1493.0V36H1493.0V37H1493.0V38H1493.0V39H1493.0V40H1493.0V41H1493.0V42H1493.0V43H1490.8V44H1491.1V45H1490.9V46H1491.5V47H1491.6V48H1490.6V49H1490.7V50H1490.8V51H1490.8V52H1490.0V53H1490.2V54H1489.8V55H1483.3V56H1482.5V57H1483.4V58H1480.2V59H1479.2V60H1479.9V61H1479.7V62H1480.5V63H1479.2V64H1480.9V65H1479.9V66H1479.7V67H1479.6V68H1480.2V69H1479.3V70H1478.6V71H1480.0V72H1479.0V73H1479.0V74H1479.4V75H1478.7V76H1479.2V77H1476.8V78H1476.2V79H1482.9V80H1482.6V81H1482.1V82H1482.2V83H1481.6V84H1480.6V85H1481.3V86H1479.2V87H1478.7V88H1478.3V89H1478.2V90H1477.8V91H1475.4V92H1475.5V93H1473.9V94H1472.1V95H1468.2V96H1468.8V97H1467.3V98H1466.1V99H1464.7V100H1464.8V101H1463.6V102H1465.6V103H1466.1V104H1464.8V105H1465.4V106H1464.0V107H1464.9V108H1466.4V109H1464.4V110H1466.3V111H1466.1V112H1464.3V113H1466.6V114H1466.6V115H1466.8V116H1465.4V117H1469.9V118H1469.9V119H1472.4V120H1473.5V121H1472.2V122H1472.4V123H1472.1V124H1474.1V125H1473.0V126H1472.5V127H1473.4V128H1472.6V129H1472.6V130H1473.1V131H1472.7V132H1472.2V133H1473.5V134H1473.2V135H1474.2V136H1473.9V137H1475.0V138H1475.1V139H1474.3V140H1475.5V141H1475.1V142H1476.4V143H1475.4V144H1476.4V145H1475.4V146H1476.0V147H1475.9V148H1475.1V149H1474.6V150H1473.2V151H1470.1V152H1467.7V153H1465.8V154H1464.3V155H1464.9V156H1463.2V157H1461.5V158H1459.0V159H1456.0V160H1457.2V161H1454.7V162H1457.5V163H1454.1V164H1455.9V165H1452.6V166H1454.3V167H1452.9V168H1452.5V169H1451.9V170H1451.6V171H1450.5V172H1448.6V173H1450.7V174H1448.8V175H1448.7V176H1445.4V177H1447.8V178H1445.9V179H1446.2V180H1443.0V181H1444.1V182H1441.5V183H1444.9V184H1442.8V185H1443.1V186H1439.9V187H1442.3V188H1447.9V189H1451.2V190H1453.8V191H1455.4V192H1454.2V193H1455.9V194H1455.2V195H1455.1V196H1451.1V197H1451.4V198H1445.3V199H1446.1V200H1448.2V201H1440.7V202H1437.0V203H1436.1V204H1434.6V205H1431.5V206H1425.4V207H1419.8V208H1422.5V209H1415.6V210H1415.2V211H1412.7V212H1414.4V213H1415.6V214H1415.3V215H1418.1V216H1427.2V217H1424.6V218H1414.0V219H1411.8V220H1410.9V221H1405.9V222H1402.9V223H1398.1V224H1392.9V225H1384.1V226H1384.5V227H1385.8V228H1376.7V229H1374.9V230H1371.3V231H1357.3V232H1358.8V233H1371.7V234H1384.8V235H1398.6V236H1411.1V237H1415.8V238H1410.8V239H1405.5V240H1402.2V241H1395.6V242H1394.7V243H1393.0V244H1390.7V245H1392.8V246H1392.6V247H1385.8V248H1383.2V249H1388.4V250H1383.7V251H1393.9V252H1398.5V253H1397.2V254H1403.6V255H1413.8V256H1410.8V257H1403.7V258H1406.7V259H1396.6V260H1392.5V261H1390.3V262H1378.2V263H1381.7V264H1385.8V265H1387.9V266H1386.8V267H1385.6V268H1383.0V269H1379.3V270H1373.3V271H1371.6V272H1364.5V273H1371.6V274H1372.4V275H1372.3V276H1375.8V277H1370.6V278H1358.7V279H1358.9V280H1353.2V281H1340.2V282H1346.3V283H1342.8V284H1344.6V285H1342.7V286H1347.0V287H1352.1V288H1355.1V289H1363.1V290H1369.6V291H1378.8V292H1389.8V293H1374.9V294H1367.0V295H1369.1V296H1377.7V297H1385.1V298H1392.8V299H1398.6V300H1404.6V301H1410.3V302H1419.7V303H1416.6V304H1414.5V305H1406.2V306H1404.0V307H1404.4V308H1390.5V309H1385.9V310H1388.2V311H1388.3V312H1393.5V313H1398.9V314H1401.3V315H1405.0V316H1411.9V317H1411.0V318H1422.0V319H1420.5V320H1430.0V321H1438.5V322H1449.8V323H1454.6V324H1462.7V325H1466.2V326H1465.2V327H1468.0V328H1466.4V329H1468.8V330H1460.7V331H1455.4V332H1446.9V333H1444.3V334H1437.8V335H1431.7V336H1428.8V337H1432.8V338H1435.8V339H1443.4V340H1447.1V341H1450.5V342H1454.5V343H1462.0V344H1457.5V345H1458.6V346H1456.8V347H1455.8V348H1459.0V349H1459.5V350H1461.6V351H1463.1V352H1466.1V353H1470.5V354H1471.7V355H1475.0V356H1474.3V357H1477.3V358H1477.2V359H1478.6V360H1480.0V361H1480.3V362H1481.6V363H1482.5V364H1482.3V365H1479.3V366H1474.4V367H1471.4V368H1467.4V369H1465.9V370H1462.6V371H1458.3V372H1458.1V373H1455.5V374H1455.5V375H1452.8V376H1453.6V377H1453.3V378H1453.5V379H1455.1V380H1454.8V381H1455.8V382H1458.2V383H1461.9V384H1464.5V385H1464.3V386H1462.9V387H1459.8V388H1460.4V389H1457.2V390H1455.4V391H1456.3V392H1455.3V393H1450.4V394H1450.3V395H1456.2V396H1460.9V397H1464.0V398H1463.8V399H1457.0V400H1451.9V401H1451.9V402H1458.5V403H1462.8V404H1467.4V405H1470.3V406H1473.8V407H1473.0V408H1472.9V409H1470.5V410H1467.6V411H1461.7V412H1457.3V413H1456.4V414H1451.8V415H1448.8V416H1446.6V417H1444.8V418H1437.0V419H1439.1V420H1448.7V421H1457.4V422H1447.5V423H1434.7V424H1419.7V425H1421.1V426H1423.0V427H1416.1V428H1399.8V429H1404.7V430H1407.4V431H1406.7V432H1409.9V433H1423.4V434H1429.9V435H1442.6V436H1446.9V437H1451.3V438H1452.4V439H1453.5V440H1448.1V441H1453.6V442H1460.8V443H1467.4V444H1476.8V445H1485.6V446H1488.9V447H1491.1V448H1493Z" fill="#0c3299"/>
<rect x="1490" y="447" width="3" height="25" fill="#4b3e28"/>
<rect x="1484" y="457" width="9" height="3" fill="#4b3e28"/><rect x="1488" y="456" width="5" height="7" fill="#4b3e28"/>
<rect x="1491" y="458" width="2" height="5" fill="#2646b4"/>
<path d="M1493 472H1482V474H1476V476H1460V478H1448V479H1458V480H1472V481H1476V483H1493Z" fill="#4b3e28"/>
<path d="M1493 472H1482V475H1474V476H1481V478H1472V479H1481V481H1484V483H1493Z" fill="#2646b4"/>
</g>
<rect x="0" y="281" width="1493" height="2" fill="#ffeb3b"/>
<rect x="0" y="551" width="1493" height="2" fill="#f23645"/>
<line x1="0" y1="491.5" x2="1438" y2="491.5" stroke="#ef5350" stroke-width="1" stroke-dasharray="1 2.15" shape-rendering="crispEdges"/>
<g stroke="#e8e8ea" fill="none" stroke-linecap="butt">
<line x1="356" y1="62.4" x2="1139" y2="280.3" stroke-width="1.25"/>
<line x1="356" y1="275.6" x2="1138.5" y2="493.2" stroke-width="1.25"/>
<line x1="356" y1="169.4" x2="1138.5" y2="386.4" stroke-width="1.15" stroke-dasharray="1.15 1.75"/>
<line x1="664.9" y1="152" x2="1137.3" y2="453" stroke-width="2.3"/>
<line x1="911.7" y1="305.7" x2="1154.4" y2="565" stroke-width="2.3"/>
</g>
<g shape-rendering="crispEdges">
<path d="M346.5 0.0V7.0M369.5 0.0V10.0M370.5 0.0V10.0M371.5 0.0V46.0M372.5 45.0V92.0M373.5 58.0V104.0M375.5 48.0V138.0M376.5 48.0V140.0M377.5 66.0V200.0M378.5 70.0V240.0M379.5 100.0V292.0M380.5 112.0V292.0M382.5 160.0V292.0M383.5 200.0V240.0M384.5 169.9V192.6M385.5 173.7V184.1M386.5 160.6V220.1M387.5 219.0V251.6M388.5 221.8V236.3M390.5 179.1V195.2M393.5 136.5V196.8M394.5 150.5V202.8M396.5 172.7V181.6M397.5 183.5V212.7M398.5 164.3V224.6M399.5 174.1V187.1M400.5 185.0V210.3M401.5 192.3V240.6M402.5 191.9V247.0M403.5 211.9V225.9M404.5 220.4V235.5M406.5 218.5V226.5M407.5 209.8V218.6M408.5 201.0V218.8M410.5 203.9V208.9M412.5 201.3V206.3M413.5 197.0V202.4M414.5 201.9V213.1M415.5 188.6V208.6M416.5 197.0V232.1M417.5 225.5V241.2M418.5 211.5V245.6M420.5 218.4V242.5M421.5 221.3V234.8M422.5 225.4V234.4M423.5 228.6V235.4M424.5 232.8V253.4M425.5 252.1V270.4M426.5 268.1V280.2M427.5 278.8V295.0M428.5 278.9V283.4M430.5 273.7V277.6M432.5 259.3V269.8M434.5 237.3V245.3M438.5 71.3V97.6M439.5 60.3V160.6M440.5 93.6V147.4M441.5 111.8V132.2M442.5 127.6V141.1M443.5 135.9V145.6M444.5 140.2V178.0M445.5 175.4V194.4M447.5 178.5V191.7M448.5 156.2V188.4M449.5 185.3V192.6M450.5 169.2V195.0M451.5 165.4V191.5M452.5 167.8V174.8M454.5 148.3V158.4M456.5 130.1V143.9M457.5 113.0V140.0M458.5 122.8V133.5M462.5 93.3V104.4M464.5 77.5V112.1M465.5 91.6V98.6M466.5 90.2V128.4M467.5 98.9V145.0M468.5 111.4V159.3M469.5 143.8V159.5M470.5 142.9V164.5M471.5 162.1V178.2M472.5 161.0V196.0M473.5 195.0V220.8M474.5 195.9V245.3M475.5 213.2V225.2M476.5 222.2V280.5M477.5 279.3V294.0M480.5 244.5V256.3M482.5 237.3V249.4M485.5 195.5V288.8M486.5 218.5V277.4M487.5 233.4V250.3M488.5 245.3V274.8M489.5 249.5V259.3M490.5 250.3V277.2M491.5 255.4V266.9M492.5 264.7V305.4M493.5 288.6V313.7M502.5 237.8V265.5M503.5 244.0V255.5M504.5 251.1V274.4M505.5 258.1V285.7M506.5 274.5V285.2M507.5 266.7V277.4M508.5 261.2V265.5M512.5 242.3V252.9M513.5 243.6V252.2M514.5 230.5V238.3M516.5 222.9V242.2M517.5 235.0V245.1M518.5 239.9V257.1M519.5 253.3V259.3M521.5 254.1V257.9M523.5 259.8V268.7M524.5 257.7V278.4M525.5 264.1V275.5M526.5 270.3V289.7M527.5 282.3V289.8M528.5 280.7V298.5M530.5 289.6V295.0M532.5 286.4V295.5M536.5 287.1V292.9M537.5 283.2V290.3M538.5 280.9V296.3M539.5 284.7V291.0M541.5 275.4V295.7M542.5 279.3V293.9M543.5 279.1V295.2M544.5 289.4V295.9M545.5 285.6V293.0M546.5 283.9V290.5M550.5 260.4V267.5M551.5 262.8V267.9M552.5 251.4V271.0M553.5 266.2V270.1M554.5 257.6V271.2M555.5 261.6V276.0M556.5 273.0V278.7M557.5 263.9V284.0M558.5 271.2V290.0M559.5 275.5V296.6M560.5 283.1V300.9M561.5 295.8V305.8M562.5 298.7V318.9M563.5 312.9V322.3M564.5 306.7V325.1M565.5 310.2V328.5M566.5 324.5V328.5M568.5 319.1V324.4M570.5 309.1V314.0M572.5 299.8V304.1M576.5 284.5V299.2M578.5 283.0V286.9M580.5 278.6V285.5M586.5 219.9V227.6M587.5 195.1V203.5M588.5 201.3V244.3M589.5 231.4V260.7M590.5 234.0V263.9M591.5 244.3V254.3M592.5 245.2V251.4M593.5 238.2V247.9M598.5 230.9V236.5M601.5 237.9V249.2M602.5 232.3V239.3M603.5 236.6V267.3M604.5 253.3V270.0M605.5 268.3V278.0M606.5 265.3V282.5M614.5 219.8V231.3M616.5 214.3V222.6M618.5 187.0V218.9M619.5 190.0V220.2M620.5 205.2V227.0M621.5 212.1V221.4M622.5 205.4V226.0M623.5 217.9V224.3M624.5 223.2V237.7M625.5 229.3V238.2M626.5 236.1V241.5M627.5 238.2V244.1M628.5 240.4V251.0M630.5 235.7V241.2M632.5 227.6V244.3M633.5 228.3V244.1M634.5 234.2V247.2M635.5 238.3V241.4M646.5 198.8V219.1M647.5 213.2V220.7M648.5 212.5V226.9M649.5 225.6V231.9M650.5 222.0V227.3M652.5 220.2V224.3M655.5 211.3V219.5M656.5 204.4V221.3M657.5 210.3V213.9M658.5 206.3V211.2M660.5 193.8V204.3M663.5 166.8V180.6M664.5 175.1V185.2M665.5 169.3V188.0M666.5 176.1V194.0M668.5 182.4V188.2M672.5 166.5V187.6M673.5 185.8V202.9M674.5 200.7V210.3M675.5 203.8V209.4M676.5 207.3V230.2M677.5 228.0V248.2M678.5 245.4V281.9M679.5 280.2V291.4M680.5 280.3V297.5M681.5 291.7V299.5M682.5 288.0V291.4M684.5 282.2V288.4M685.5 277.4V285.4M687.5 278.1V296.4M688.5 276.9V280.9M690.5 279.7V284.4M691.5 283.5V291.7M692.5 281.1V285.3M694.5 277.9V283.1M695.5 273.8V280.6M698.5 276.7V283.9M699.5 277.1V284.6M700.5 276.7V301.4M701.5 298.8V314.7M702.5 291.1V311.2M705.5 294.8V313.5M706.5 303.0V307.6M708.5 299.8V307.9M710.5 291.5V296.2M712.5 284.7V302.1M713.5 280.6V287.7M715.5 283.4V296.1M716.5 281.7V299.0M718.5 280.3V296.7M719.5 289.7V295.5M724.5 257.7V264.3M726.5 242.6V247.5M727.5 232.0V248.7M730.5 240.1V247.5M732.5 231.4V251.4M733.5 245.5V263.1M734.5 261.7V283.6M740.5 244.8V252.4M741.5 242.9V249.5M744.5 224.3V242.5M745.5 231.8V237.5M746.5 223.8V241.7M748.5 232.0V236.2M750.5 224.0V240.0M751.5 233.7V240.6M752.5 235.5V253.9M753.5 252.4V264.1M754.5 260.5V276.7M755.5 264.0V270.7M758.5 257.3V274.4M759.5 264.5V270.1M760.5 265.0V268.2M761.5 264.4V267.5M768.5 253.4V269.4M769.5 267.2V282.2M770.5 276.1V299.0M771.5 289.3V294.7M772.5 298.0V302.4M774.5 285.5V302.7M775.5 291.4V296.0M776.5 286.7V299.2M777.5 296.9V303.1M782.5 274.0V282.5M783.5 274.5V281.7M784.5 277.9V291.3M785.5 276.7V282.5M787.5 277.1V284.4M788.5 279.6V291.4M789.5 280.7V294.4M790.5 281.9V296.2M791.5 290.2V293.2M792.5 291.5V301.3M795.5 291.0V293.7M796.5 291.9V306.8M797.5 305.8V310.4M798.5 304.6V314.6M799.5 305.1V310.0M802.5 303.8V311.1M803.5 309.7V311.9M804.5 303.7V312.7M806.5 304.7V314.5M807.5 307.9V310.9M808.5 309.0V316.7M809.5 315.4V317.4M810.5 310.1V318.0M811.5 310.6V322.5M812.5 314.2V324.1M814.5 311.3V313.4M815.5 306.8V317.2M816.5 305.7V316.5M817.5 305.0V309.5M818.5 305.1V309.1M819.5 307.7V315.7M820.5 310.6V313.0M822.5 309.6V318.0M824.5 310.1V319.2M825.5 315.3V317.3M826.5 312.5V320.8M829.5 315.9V318.5M830.5 315.3V321.8M831.5 315.4V317.4M832.5 317.3V319.0M833.5 318.1V320.1M834.5 318.2V323.7M835.5 322.7V328.1M836.5 327.0V338.6M837.5 337.4V346.6M838.5 348.8V351.2M840.5 349.4V353.1M841.5 348.7V353.3M842.5 352.0V377.2M843.5 369.6V379.9M846.5 356.7V371.1M847.5 365.9V378.7M848.5 368.8V378.8M850.5 370.8V373.3M851.5 369.9V372.7M852.5 369.7V378.5M854.5 371.8V373.4M856.5 367.4V376.6M857.5 375.3V378.8M858.5 373.1V380.3M859.5 376.4V380.9M860.5 377.8V386.6M861.5 381.7V389.7M862.5 384.4V395.5M863.5 392.3V394.6M864.5 391.6V402.0M865.5 396.7V405.6M866.5 400.8V408.1M868.5 401.5V405.6M870.5 395.9V399.0M872.5 388.6V391.7M876.5 379.6V390.2M878.5 373.9V381.5M882.5 329.3V347.9M883.5 336.2V343.7M885.5 333.3V341.7M886.5 338.4V357.2M887.5 346.2V351.9M890.5 336.3V342.2M892.5 313.7V323.6M893.5 318.2V340.8M894.5 326.7V344.1M895.5 328.7V346.1M896.5 328.6V346.0M897.5 333.6V339.8M898.5 333.6V349.7M899.5 339.4V343.6M900.5 332.4V341.5M902.5 338.3V348.1M903.5 346.1V357.5M904.5 354.0V356.9M906.5 342.9V346.0M913.5 314.2V317.3M914.5 310.6V322.7M915.5 321.0V333.2M916.5 317.4V333.9M917.5 331.6V340.2M918.5 327.2V344.7M919.5 331.9V338.7M920.5 335.0V355.3M921.5 342.1V353.5M922.5 327.0V356.6M923.5 346.3V359.4M924.5 351.7V391.4M925.5 385.7V393.9M926.5 373.2V424.6M929.5 371.2V375.9M930.5 374.1V391.9M931.5 390.5V396.3M932.5 387.1V401.3M933.5 389.2V396.7M934.5 394.3V409.7M935.5 406.9V416.9M936.5 405.8V420.8M937.5 419.3V426.9M938.5 417.9V422.3M941.5 402.5V413.6M942.5 402.8V409.5M943.5 399.1V405.9M944.5 406.6V409.7M945.5 404.1V414.0M946.5 405.7V416.0M947.5 414.4V419.9M948.5 411.2V443.6M949.5 411.2V415.5M950.5 417.7V421.7M952.5 411.3V420.1M953.5 415.4V419.1M956.5 417.4V419.1M957.5 412.5V420.3M958.5 419.2V427.2M959.5 425.6V431.7M960.5 429.7V439.1M966.5 426.9V430.4M969.5 423.4V426.2M970.5 425.0V430.0M971.5 423.3V432.7M972.5 422.1V431.9M973.5 426.4V428.9M974.5 422.9V432.4M975.5 423.2V427.7M976.5 423.3V432.8M978.5 424.8V434.1M979.5 429.5V438.7M980.5 433.5V441.8M986.5 426.6V435.7M987.5 427.5V431.3M988.5 424.2V432.5M989.5 424.0V428.3M990.5 422.6V432.2M992.5 423.1V430.7M993.5 422.9V426.1M995.5 419.1V428.8M996.5 421.2V424.4M998.5 420.9V422.6M1000.5 417.4V420.5M1001.5 414.4V424.7M1002.5 413.5V421.2M1003.5 415.3V419.0M1004.5 417.9V426.3M1005.5 420.9V424.7M1006.5 423.0V426.2M1007.5 424.2V430.3M1008.5 432.7V436.7M1010.5 432.8V435.0M1014.5 428.3V434.5M1015.5 427.7V429.7M1017.5 427.9V430.2M1018.5 431.3V432.8M1019.5 428.5V434.1M1020.5 429.1V435.0M1021.5 433.5V435.5M1022.5 432.3V439.1M1024.5 438.1V439.8M1028.5 433.7V435.8M1029.5 429.3V438.2M1030.5 435.9V439.9M1031.5 433.9V436.2M1032.5 433.6V442.6M1034.5 438.7V443.1M1035.5 440.7V454.6M1036.5 453.0V464.8M1037.5 462.9V483.4M1038.5 481.3V486.5M1040.5 474.7V481.0M1041.5 476.6V480.9M1045.5 475.8V477.8M1046.5 478.6V482.1M1047.5 480.2V482.2M1048.5 481.0V489.7M1049.5 484.3V493.2M1050.5 482.8V490.1M1051.5 485.5V489.6M1052.5 486.1V487.8M1054.5 487.6V491.6" stroke="#ef5350" stroke-width="1" fill="none"/>
<path d="M370.5 3.0V9.0M374.5 43.0V159.0M378.5 83.0V110.0M379.5 150.0V190.0M380.5 292.0V350.0M381.5 150.0V358.0M383.5 136.0V276.0M384.5 135.3V230.3M386.5 173.2V194.4M388.5 191.6V250.9M389.5 204.6V219.7M390.5 167.2V213.6M391.5 171.1V196.6M392.5 136.6V182.8M395.5 161.5V207.9M396.5 154.7V196.2M398.5 175.4V189.2M401.5 205.8V226.1M402.5 210.8V229.9M405.5 233.0V243.7M406.5 203.2V240.0M408.5 196.2V238.7M409.5 204.0V213.3M410.5 196.1V218.9M411.5 212.5V220.9M412.5 192.2V216.7M413.5 190.7V213.0M414.5 189.2V214.3M415.5 195.7V201.5M418.5 218.4V230.5M419.5 214.3V242.5M428.5 273.0V292.1M429.5 278.0V285.1M430.5 266.6V286.1M431.5 274.2V278.8M432.5 249.3V275.8M433.5 241.4V251.9M434.5 227.5V251.8M435.5 217.5V229.7M436.5 200.2V220.2M437.5 89.5V200.1M438.5 54.3V179.2M444.5 144.3V155.0M446.5 141.4V189.4M451.5 172.5V181.3M452.5 163.3V192.3M453.5 168.2V176.4M454.5 144.1V182.8M455.5 118.0V146.0M456.5 106.3V152.4M458.5 116.9V163.2M459.5 112.0V124.1M460.5 117.7V138.9M461.5 104.6V119.0M462.5 87.8V112.7M463.5 88.9V95.8M464.5 85.5V93.2M472.5 179.1V191.0M476.5 239.2V257.8M478.5 270.6V303.4M479.5 271.1V282.3M480.5 227.4V278.7M481.5 257.4V278.1M482.5 231.6V259.3M483.5 240.5V251.8M484.5 211.8V268.6M485.5 205.8V219.7M486.5 233.7V257.9M488.5 254.1V267.3M493.5 300.3V308.2M494.5 281.8V314.5M495.5 272.9V284.3M496.5 261.6V289.6M497.5 255.9V262.6M498.5 246.3V269.3M499.5 242.2V248.2M500.5 237.3V263.8M501.5 241.2V249.0M502.5 254.0V260.4M506.5 259.6V286.0M507.5 256.4V285.1M508.5 253.6V274.0M509.5 256.7V268.6M510.5 241.3V263.4M511.5 246.1V254.0M512.5 234.4V258.4M513.5 230.3V253.2M514.5 225.6V246.9M515.5 227.1V232.2M518.5 249.8V255.4M520.5 246.6V266.6M522.5 255.0V270.6M524.5 261.5V265.7M528.5 286.1V293.3M529.5 284.3V288.3M530.5 286.7V299.0M531.5 288.1V293.3M533.5 289.3V292.5M534.5 285.8V291.1M535.5 282.5V294.9M536.5 283.0V297.7M539.5 278.9V295.6M540.5 269.1V290.1M542.5 282.6V286.4M543.5 288.7V293.9M546.5 272.6V291.8M547.5 274.1V282.5M548.5 266.7V284.3M549.5 260.3V268.2M550.5 255.3V274.7M554.5 262.8V266.7M555.5 268.3V271.9M557.5 271.4V278.7M558.5 274.4V279.5M564.5 309.7V314.5M567.5 324.8V329.7M568.5 317.4V332.5M569.5 318.8V326.8M570.5 302.1V324.3M571.5 308.0V311.6M572.5 294.8V309.1M573.5 302.3V310.0M574.5 303.7V307.7M575.5 288.1V306.2M577.5 280.5V296.3M578.5 279.8V296.2M579.5 274.0V283.4M580.5 267.7V288.0M581.5 263.5V282.5M582.5 251.4V271.7M583.5 239.5V253.9M584.5 239.0V247.3M585.5 214.0V240.0M586.5 201.8V234.8M588.5 219.0V232.7M589.5 243.7V255.9M592.5 237.8V258.2M594.5 240.5V245.6M595.5 244.3V258.5M596.5 232.2V253.0M597.5 243.0V253.6M598.5 225.1V252.0M599.5 234.6V246.4M600.5 209.9V240.2M603.5 243.3V256.4M604.5 262.0V268.2M606.5 267.3V271.2M607.5 270.5V274.7M608.5 267.6V283.5M609.5 268.4V275.9M610.5 262.4V271.3M611.5 232.8V263.5M612.5 240.7V251.1M613.5 217.7V243.2M614.5 212.5V242.8M615.5 214.8V228.3M616.5 200.2V229.2M617.5 217.5V224.4M619.5 205.1V212.5M629.5 238.7V245.1M630.5 232.0V246.7M631.5 230.0V233.8M632.5 237.4V243.7M636.5 236.6V246.2M637.5 235.9V240.3M638.5 233.3V237.3M639.5 231.1V234.5M640.5 222.0V232.2M641.5 225.7V229.4M642.5 214.2V227.1M643.5 215.4V221.7M644.5 203.4V223.7M645.5 213.3V221.5M648.5 216.9V223.2M650.5 220.2V237.5M651.5 225.2V229.1M652.5 213.4V227.0M653.5 214.7V223.1M654.5 197.7V220.3M657.5 205.8V220.2M658.5 200.9V216.8M659.5 205.4V210.8M660.5 178.7V207.9M661.5 171.7V183.9M662.5 148.8V177.9M665.5 177.6V183.8M666.5 180.0V184.2M667.5 177.6V184.5M668.5 172.7V191.2M669.5 172.0V183.3M670.5 182.3V186.9M671.5 175.0V185.0M672.5 178.1V182.4M674.5 203.7V206.9M678.5 250.0V260.0M682.5 284.9V301.1M683.5 280.6V297.7M684.5 277.1V297.1M685.5 274.2V294.2M686.5 273.6V280.1M688.5 274.8V294.6M689.5 272.6V282.4M690.5 270.7V289.8M692.5 272.0V288.0M693.5 268.9V274.3M694.5 269.2V285.5M696.5 269.3V286.4M697.5 278.5V284.3M698.5 265.4V284.6M703.5 291.2V307.9M704.5 293.0V307.2M706.5 297.8V310.5M707.5 308.9V313.7M708.5 292.3V311.5M709.5 297.0V302.6M710.5 285.7V301.1M711.5 299.3V304.0M714.5 282.5V299.8M716.5 283.9V289.8M717.5 290.1V297.7M720.5 278.4V293.7M721.5 279.7V282.4M722.5 277.7V287.5M723.5 265.6V280.6M724.5 251.0V268.0M725.5 242.1V253.0M726.5 233.6V253.3M728.5 235.8V255.4M729.5 240.1V246.2M730.5 237.6V257.1M731.5 235.8V244.6M732.5 235.1V241.5M733.5 255.2V261.6M734.5 274.7V283.6M735.5 282.5V286.6M736.5 263.1V283.5M737.5 272.4V275.3M738.5 260.5V273.9M739.5 260.1V267.9M740.5 240.4V262.0M741.5 232.7V254.5M742.5 226.1V247.4M743.5 239.8V243.9M746.5 232.0V239.2M747.5 228.6V236.3M748.5 227.5V240.1M749.5 226.4V235.4M750.5 226.4V232.3M756.5 264.3V269.4M757.5 266.8V276.6M759.5 260.0V272.6M760.5 259.5V274.5M762.5 264.8V284.0M763.5 271.2V277.1M764.5 263.8V275.3M765.5 271.5V276.4M766.5 258.1V273.4M767.5 260.8V264.7M768.5 258.2V262.6M770.5 284.7V292.8M772.5 289.0V305.9M773.5 300.1V304.3M778.5 301.5V307.9M779.5 303.0V309.4M780.5 294.2V304.0M781.5 287.2V296.3M782.5 266.7V289.0M784.5 280.5V284.2M786.5 278.9V290.5M793.5 296.1V300.0M794.5 284.9V297.8M798.5 310.6V314.2M800.5 302.7V311.9M801.5 307.2V310.7M805.5 303.8V314.6M806.5 306.2V310.3M810.5 313.3V316.8M813.5 311.7V317.1M814.5 308.2V318.2M815.5 309.3V312.0M820.5 306.5V315.6M821.5 309.0V311.6M822.5 312.7V315.0M823.5 312.8V316.1M826.5 314.3V316.2M827.5 318.5V320.7M828.5 314.0V320.1M832.5 316.0V322.9M838.5 345.1V353.3M839.5 344.1V355.2M844.5 370.5V377.9M845.5 362.8V371.9M846.5 359.8V364.6M848.5 373.6V376.0M849.5 375.4V378.9M850.5 369.6V378.9M852.5 370.6V374.6M853.5 374.9V378.4M854.5 368.9V376.8M855.5 373.9V377.1M856.5 371.9V375.7M860.5 378.9V381.9M864.5 396.4V398.5M865.5 400.5V403.4M867.5 405.4V407.7M868.5 398.4V407.8M869.5 396.8V402.3M870.5 393.2V400.3M871.5 392.3V394.7M872.5 387.4V395.9M873.5 389.5V392.5M874.5 383.2V394.4M875.5 383.0V387.7M877.5 381.3V384.0M878.5 361.8V384.5M879.5 365.3V369.8M880.5 333.7V366.6M881.5 341.1V345.6M884.5 332.6V348.4M886.5 347.2V355.4M888.5 349.5V362.7M889.5 347.2V352.6M890.5 328.1V349.8M891.5 337.8V342.5M892.5 308.4V338.8M895.5 332.3V339.7M896.5 335.4V340.5M898.5 340.6V344.9M901.5 336.4V348.0M904.5 351.3V361.5M905.5 347.4V352.8M906.5 340.0V349.1M907.5 338.3V341.6M908.5 330.9V343.4M909.5 330.4V333.9M910.5 317.8V332.6M911.5 313.0V320.1M912.5 305.6V323.5M918.5 329.3V335.6M922.5 342.0V351.1M927.5 379.2V387.5M928.5 370.6V390.3M930.5 377.5V384.4M936.5 409.0V412.8M938.5 412.8V423.6M939.5 416.2V420.7M940.5 404.6V418.4M944.5 400.3V414.5M946.5 409.3V412.0M948.5 417.4V429.4M950.5 412.1V421.7M951.5 412.3V414.5M954.5 412.4V419.0M955.5 414.7V417.3M956.5 412.4V420.8M957.5 414.2V416.1M961.5 437.4V443.7M962.5 435.2V444.8M963.5 431.9V437.5M964.5 434.0V437.5M965.5 426.5V436.9M966.5 425.2V434.0M967.5 430.3V435.1M968.5 423.6V432.6M971.5 428.0V431.7M972.5 424.9V427.7M974.5 425.0V428.9M976.5 426.4V429.1M977.5 428.8V431.9M980.5 436.4V439.9M981.5 436.2V439.3M982.5 433.5V439.0M983.5 434.7V437.7M984.5 427.8V437.9M985.5 426.8V430.8M986.5 430.9V434.0M989.5 423.0V432.6M991.5 421.7V424.6M994.5 420.2V428.9M995.5 422.7V425.6M996.5 417.5V425.5M997.5 419.3V423.7M998.5 416.5V424.7M999.5 418.7V423.1M1000.5 415.8V423.4M1001.5 419.5V424.0M1004.5 421.1V423.1M1008.5 427.6V436.7M1009.5 430.6V432.6M1010.5 429.3V435.8M1011.5 429.7V431.7M1012.5 430.6V435.3M1013.5 428.4V433.1M1016.5 427.8V433.2M1018.5 428.5V434.9M1020.5 431.2V433.2M1022.5 433.4V435.2M1023.5 434.1V437.2M1024.5 434.8V441.8M1025.5 439.7V441.7M1026.5 434.7V441.2M1027.5 423.7V436.2M1029.5 434.3V436.1M1030.5 430.9V441.7M1032.5 436.8V440.3M1033.5 437.6V441.5M1039.5 479.1V483.6M1042.5 474.0V480.7M1043.5 473.7V482.8M1044.5 475.0V481.3M1046.5 476.2V484.8M1052.5 485.3V492.6M1053.5 486.7V489.5" stroke="#26a69a" stroke-width="1" fill="none"/>
</g>
<g stroke="#f5a00a" stroke-width="2" fill="none" stroke-linecap="round" stroke-linejoin="round">
<path d="M1055.3 479.8 C1062 477.8 1068 479.5 1073 486.4 C1080 497 1084 510 1087 518 C1090.5 527 1094 537 1097.4 546.8"/>
<path d="M1075.6 532.3 C1083 538.5 1090 543.5 1096.6 546.6 M1078.2 535.8 C1085 542 1091 549 1096 552 C1098.5 553.3 1101 552 1102.9 549.5 C1105.5 545.5 1107 540 1108.2 535"/>
</g>
<circle cx="1052.6" cy="771.4" r="9.6" fill="#131722" stroke="#ba47d1" stroke-width="1.5"/>
<path d="M1055.9 766.2L1048.4 771.8L1052.3 771.8L1049.1 777L1056.9 771L1052.8 771Z" fill="#ba47d1"/>
<rect x="0" y="784" width="1563" height="1" fill="#2f333f"/>
<rect x="0" y="812" width="1563" height="1" fill="#2f333f"/>
<rect x="1493" y="0" width="1" height="812" fill="#3d414d"/>
<g opacity="0.995">
<text x="1502.8" y="47.9" font-size="12" fill="#b2b5be" textLength="29.6" lengthAdjust="spacingAndGlyphs" stroke="#b2b5be" stroke-width="0.25">0.700</text>
<text x="1502.8" y="97.9" font-size="12" fill="#b2b5be" textLength="29.6" lengthAdjust="spacingAndGlyphs" stroke="#b2b5be" stroke-width="0.25">0.650</text>
<text x="1502.8" y="147.9" font-size="12" fill="#b2b5be" textLength="29.6" lengthAdjust="spacingAndGlyphs" stroke="#b2b5be" stroke-width="0.25">0.600</text>
<text x="1502.8" y="197.9" font-size="12" fill="#b2b5be" textLength="29.6" lengthAdjust="spacingAndGlyphs" stroke="#b2b5be" stroke-width="0.25">0.550</text>
<text x="1502.8" y="247.9" font-size="12" fill="#b2b5be" textLength="29.6" lengthAdjust="spacingAndGlyphs" stroke="#b2b5be" stroke-width="0.25">0.500</text>
<text x="1502.8" y="297.9" font-size="12" fill="#b2b5be" textLength="29.6" lengthAdjust="spacingAndGlyphs" stroke="#b2b5be" stroke-width="0.25">0.450</text>
<text x="1502.8" y="347.9" font-size="12" fill="#b2b5be" textLength="29.6" lengthAdjust="spacingAndGlyphs" stroke="#b2b5be" stroke-width="0.25">0.400</text>
<text x="1502.8" y="397.9" font-size="12" fill="#b2b5be" textLength="29.6" lengthAdjust="spacingAndGlyphs" stroke="#b2b5be" stroke-width="0.25">0.350</text>
<text x="1502.8" y="447.9" font-size="12" fill="#b2b5be" textLength="29.6" lengthAdjust="spacingAndGlyphs" stroke="#b2b5be" stroke-width="0.25">0.300</text>
<text x="1502.8" y="547.9" font-size="12" fill="#b2b5be" textLength="29.6" lengthAdjust="spacingAndGlyphs" stroke="#b2b5be" stroke-width="0.25">0.200</text>
<text x="1502.8" y="597.9" font-size="12" fill="#b2b5be" textLength="29.6" lengthAdjust="spacingAndGlyphs" stroke="#b2b5be" stroke-width="0.25">0.150</text>
<text x="1502.8" y="647.9" font-size="12" fill="#b2b5be" textLength="29.6" lengthAdjust="spacingAndGlyphs" stroke="#b2b5be" stroke-width="0.25">0.100</text>
<text x="1502.8" y="697.9" font-size="12" fill="#b2b5be" textLength="29.6" lengthAdjust="spacingAndGlyphs" stroke="#b2b5be" stroke-width="0.25">0.050</text>
<text x="1502.8" y="747.9" font-size="12" fill="#b2b5be" textLength="29.6" lengthAdjust="spacingAndGlyphs" stroke="#b2b5be" stroke-width="0.25">0.000</text>
<text x="1503.2" y="15.8" font-size="12" fill="#b2b5be" textLength="20.2" lengthAdjust="spacingAndGlyphs">USD</text>
<path d="M1527.3 10.2L1529.7 12.6L1532.1 10.2" stroke="#b2b5be" stroke-width="1.1" fill="none"/>
<path d="M1493 274H1537a2 2 0 0 1 2 2V289a2 2 0 0 1 -2 2H1493Z" fill="#ffeb3b"/>
<text x="1502.9" y="286.7" font-size="12" fill="#131722" textLength="28.6" lengthAdjust="spacingAndGlyphs">0.461</text>
<path d="M1493 544H1537a2 2 0 0 1 2 2V559a2 2 0 0 1 -2 2H1493Z" fill="#f23645"/>
<text x="1502.8" y="556.8" font-size="12" fill="#ffffff" textLength="28.7" lengthAdjust="spacingAndGlyphs" font-weight="bold">0.191</text>
<rect x="1438" y="483" width="54" height="17" rx="2" fill="#ef5350"/>
<text x="1443.3" y="496.0" font-size="12" fill="#ffffff" textLength="43.0" lengthAdjust="spacingAndGlyphs" font-weight="bold">ADAUSD</text>
<path d="M1493 483H1537a2 2 0 0 1 2 2V512a2 2 0 0 1 -2 2H1493Z" fill="#ef5350"/>
<text x="1502.8" y="496.3" font-size="12" fill="#ffffff" textLength="29.0" lengthAdjust="spacingAndGlyphs" font-weight="bold">0.252</text>
<text x="1503.5" y="510.3" font-size="12" fill="#fbdcdc" textLength="28.5" lengthAdjust="spacingAndGlyphs" stroke="#fbdcdc" stroke-width="0.25">14:46</text>
<path d="M1493 768H1557a2 2 0 0 1 2 2V784H1493Z" fill="#ef5350"/>
<text x="1503.4" y="780.6" font-size="12" fill="#ffffff" textLength="49.0" lengthAdjust="spacingAndGlyphs" font-weight="bold">967.026K</text>
<g stroke="#868993" stroke-width="1.1" fill="none">
<circle cx="1528.5" cy="798.5" r="5.1"/>
<line x1="1534.4" y1="798.5" x2="1536.2" y2="798.5"/>
<line x1="1532.7" y1="802.7" x2="1533.9" y2="803.9"/>
<line x1="1528.5" y1="804.4" x2="1528.5" y2="806.2"/>
<line x1="1524.3" y1="802.7" x2="1523.1" y2="803.9"/>
<line x1="1522.6" y1="798.5" x2="1520.8" y2="798.5"/>
<line x1="1524.3" y1="794.3" x2="1523.1" y2="793.1"/>
<line x1="1528.5" y1="792.6" x2="1528.5" y2="790.8"/>
<line x1="1532.7" y1="794.3" x2="1533.9" y2="793.1"/>
</g>
<text x="69.9" y="802.3" font-size="12" fill="#b2b5be" textLength="19.1" lengthAdjust="spacingAndGlyphs">Feb</text>
<text x="153.6" y="802.3" font-size="12" fill="#b2b5be" textLength="19.3" lengthAdjust="spacingAndGlyphs">Mar</text>
<text x="247.4" y="802.3" font-size="12" fill="#b2b5be" textLength="17.9" lengthAdjust="spacingAndGlyphs">Apr</text>
<text x="335.9" y="802.3" font-size="12" fill="#b2b5be" textLength="20.7" lengthAdjust="spacingAndGlyphs">May</text>
<text x="430.0" y="802.3" font-size="12" fill="#b2b5be" textLength="18.7" lengthAdjust="spacingAndGlyphs">Jun</text>
<text x="521.9" y="802.3" font-size="12" fill="#b2b5be" textLength="15.3" lengthAdjust="spacingAndGlyphs">Jul</text>
<text x="612.7" y="802.3" font-size="12" fill="#b2b5be" textLength="19.3" lengthAdjust="spacingAndGlyphs">Aug</text>
<text x="705.9" y="802.3" font-size="12" fill="#b2b5be" textLength="18.9" lengthAdjust="spacingAndGlyphs">Sep</text>
<text x="796.3" y="802.3" font-size="12" fill="#b2b5be" textLength="18.3" lengthAdjust="spacingAndGlyphs">Oct</text>
<text x="888.9" y="802.3" font-size="12" fill="#b2b5be" textLength="19.6" lengthAdjust="spacingAndGlyphs">Nov</text>
<text x="978.7" y="802.3" font-size="12" fill="#b2b5be" textLength="19.6" lengthAdjust="spacingAndGlyphs">Dec</text>
<text x="1067.8" y="802.3" font-size="12" fill="#b2b5be" textLength="27.0" lengthAdjust="spacingAndGlyphs" font-weight="bold">2023</text>
<text x="1165.0" y="802.3" font-size="12" fill="#b2b5be" textLength="19.3" lengthAdjust="spacingAndGlyphs">Feb</text>
<text x="1249.1" y="802.3" font-size="12" fill="#b2b5be" textLength="19.0" lengthAdjust="spacingAndGlyphs">Mar</text>
</g>
<text x="13.4" y="837.0" font-size="14" fill="#d1d4dc" textLength="15.7" lengthAdjust="spacingAndGlyphs">1D</text>
<text x="43.2" y="837.0" font-size="14" fill="#d1d4dc" textLength="15.5" lengthAdjust="spacingAndGlyphs">5D</text>
<text x="73.9" y="837.0" font-size="14" fill="#d1d4dc" textLength="16.8" lengthAdjust="spacingAndGlyphs">1M</text>
<text x="104.8" y="837.0" font-size="14" fill="#d1d4dc" textLength="16.8" lengthAdjust="spacingAndGlyphs">3M</text>
<text x="135.9" y="837.0" font-size="14" fill="#d1d4dc" textLength="17.0" lengthAdjust="spacingAndGlyphs">6M</text>
<text x="166.8" y="837.0" font-size="14" fill="#d1d4dc" textLength="24.2" lengthAdjust="spacingAndGlyphs">YTD</text>
<text x="206.0" y="837.0" font-size="14" fill="#d1d4dc" textLength="14.6" lengthAdjust="spacingAndGlyphs">1Y</text>
<text x="235.0" y="837.0" font-size="14" fill="#d1d4dc" textLength="13.5" lengthAdjust="spacingAndGlyphs">5Y</text>
<text x="264.2" y="837.0" font-size="14" fill="#d1d4dc" textLength="15.7" lengthAdjust="spacingAndGlyphs">All</text>
<rect x="297" y="821" width="1" height="22" fill="#2f333f"/>
<g stroke="#d1d4dc" stroke-width="1.15" fill="none">
<path d="M315.5 830.5V827.5a2.3 2.3 0 0 1 2.3 -2.3H328.3a2.3 2.3 0 0 1 2.3 2.3V836.2a2.3 2.3 0 0 1 -2.3 2.3H323.1"/>
<path d="M315.5 829.4H330.6"/><path d="M319.4 823.9V826.7M326.5 823.9V826.7"/>
<path d="M314 835.5H321.8M318.2 832L321.8 835.5L318.2 839"/>
</g>
<text x="1321.5" y="837.3" font-size="14" fill="#d1d4dc" textLength="108.4" lengthAdjust="spacingAndGlyphs">08:45:14 (UTC+1)</text>
<rect x="1446" y="821" width="1" height="22" fill="#2f333f"/>
<text x="1463.6" y="837.3" font-size="14" fill="#d1d4dc" textLength="12.9" lengthAdjust="spacingAndGlyphs">%</text>
<text x="1491.7" y="837.3" font-size="14" fill="#d1d4dc" textLength="18.5" lengthAdjust="spacingAndGlyphs">log</text>
<text x="1524.0" y="837.3" font-size="14" fill="#d1d4dc" textLength="28.3" lengthAdjust="spacingAndGlyphs">auto</text>
<g opacity="0.995">
<rect x="366" y="10" width="12" height="17" fill="#181c27" fill-opacity="0.6"/>
<text x="6.1" y="20.8" font-size="16" fill="#d1d4dc" textLength="58.4" lengthAdjust="spacingAndGlyphs" stroke="#d1d4dc" stroke-width="0.42">Cardano</text>
<text x="71.1" y="20.8" font-size="16" fill="#d1d4dc" textLength="5.2" lengthAdjust="spacingAndGlyphs" stroke="#d1d4dc" stroke-width="0.42">/</text>
<text x="83.4" y="20.8" font-size="16" fill="#d1d4dc" textLength="17.2" lengthAdjust="spacingAndGlyphs" stroke="#d1d4dc" stroke-width="0.42">US</text>
<text x="106.4" y="20.8" font-size="16" fill="#d1d4dc" textLength="41.0" lengthAdjust="spacingAndGlyphs" stroke="#d1d4dc" stroke-width="0.42">Dollar</text>
<text x="154.0" y="20.8" font-size="16" fill="#d1d4dc" textLength="79.4" lengthAdjust="spacingAndGlyphs" stroke="#d1d4dc" stroke-width="0.42">(calculated</text>
<text x="238.9" y="20.8" font-size="16" fill="#d1d4dc" textLength="15.6" lengthAdjust="spacingAndGlyphs" stroke="#d1d4dc" stroke-width="0.42">by</text>
<text x="261.9" y="20.8" font-size="16" fill="#d1d4dc" textLength="90.2" lengthAdjust="spacingAndGlyphs" stroke="#d1d4dc" stroke-width="0.42">TradingView)</text>
<text x="356.6" y="20.8" font-size="16" fill="#d1d4dc" textLength="2.8" lengthAdjust="spacingAndGlyphs" stroke="#d1d4dc" stroke-width="0.9">·</text>
<text x="364.3" y="20.8" font-size="16" fill="#d1d4dc" textLength="16.6" lengthAdjust="spacingAndGlyphs" stroke="#d1d4dc" stroke-width="0.42">4h</text>
<text x="385.6" y="20.8" font-size="16" fill="#d1d4dc" textLength="2.8" lengthAdjust="spacingAndGlyphs" stroke="#d1d4dc" stroke-width="0.9">·</text>
<text x="394.3" y="20.8" font-size="16" fill="#d1d4dc" textLength="60.5" lengthAdjust="spacingAndGlyphs" stroke="#d1d4dc" stroke-width="0.42">BINANCE</text>
<path d="M467 8.8H479.3L475.8 14.9L479.3 21H467Z" fill="#ff5252"/>
<circle cx="506.9" cy="14.8" r="9.1" fill="#1b3237"/><circle cx="506.9" cy="14.8" r="4.2" fill="#089981"/>
<text x="532.3" y="20.9" font-size="13" fill="#d1d4dc" textLength="8.7" lengthAdjust="spacingAndGlyphs" stroke="#d1d4dc" stroke-width="0.2">O</text>
<text x="542.3" y="20.9" font-size="13" fill="#ef5350" textLength="31.7" lengthAdjust="spacingAndGlyphs" stroke="#ef5350" stroke-width="0.2">0.254</text>
<text x="580.7" y="20.9" font-size="13" fill="#d1d4dc" textLength="7.9" lengthAdjust="spacingAndGlyphs" stroke="#d1d4dc" stroke-width="0.2">H</text>
<text x="589.5" y="20.9" font-size="13" fill="#ef5350" textLength="31.5" lengthAdjust="spacingAndGlyphs" stroke="#ef5350" stroke-width="0.2">0.254</text>
<text x="627.7" y="20.9" font-size="13" fill="#d1d4dc" textLength="5.9" lengthAdjust="spacingAndGlyphs" stroke="#d1d4dc" stroke-width="0.2">L</text>
<text x="634.4" y="20.9" font-size="13" fill="#ef5350" textLength="31.6" lengthAdjust="spacingAndGlyphs" stroke="#ef5350" stroke-width="0.2">0.251</text>
<text x="673.2" y="20.9" font-size="13" fill="#d1d4dc" textLength="7.4" lengthAdjust="spacingAndGlyphs" stroke="#d1d4dc" stroke-width="0.2">C</text>
<text x="681.4" y="20.9" font-size="13" fill="#ef5350" textLength="32.1" lengthAdjust="spacingAndGlyphs" stroke="#ef5350" stroke-width="0.2">0.252</text>
<text x="720.8" y="20.9" font-size="13" fill="#ef5350" textLength="36.8" lengthAdjust="spacingAndGlyphs" stroke="#ef5350" stroke-width="0.2">−0.001</text>
<text x="764.0" y="20.9" font-size="13" fill="#ef5350" textLength="48.0" lengthAdjust="spacingAndGlyphs" stroke="#ef5350" stroke-width="0.2">(−0.40%)</text>
<rect x="5.5" y="31.5" width="47" height="23" rx="3.5" fill="#131722" stroke="#f23645"/>
<text x="13.2" y="48.1" font-size="13" fill="#f23645" textLength="31.7" lengthAdjust="spacingAndGlyphs" stroke="#f23645" stroke-width="0.3">0.252</text>
<text x="60.9" y="47.2" font-size="11" fill="#d1d4dc" textLength="27.2" lengthAdjust="spacingAndGlyphs" stroke="#d1d4dc" stroke-width="0.35">0.000</text>
<rect x="96.5" y="31.5" width="47" height="23" rx="3.5" fill="#131722" stroke="#2962ff"/>
<text x="103.9" y="48.1" font-size="13" fill="#2962ff" textLength="31.7" lengthAdjust="spacingAndGlyphs" stroke="#2962ff" stroke-width="0.3">0.252</text>
<rect x="6.5" y="61.5" width="31" height="20" rx="3" fill="none" stroke="#363a45"/>
<path d="M12.6 69.8L16.4 73.4L20.2 69.8" stroke="#d1d4dc" stroke-width="1.4" fill="none"/>
<text x="26.4" y="75.9" font-size="12" fill="#d1d4dc" textLength="5.8" lengthAdjust="spacingAndGlyphs" stroke="#d1d4dc" stroke-width="0.3">5</text>
</g>
</svg>
</body></html>
